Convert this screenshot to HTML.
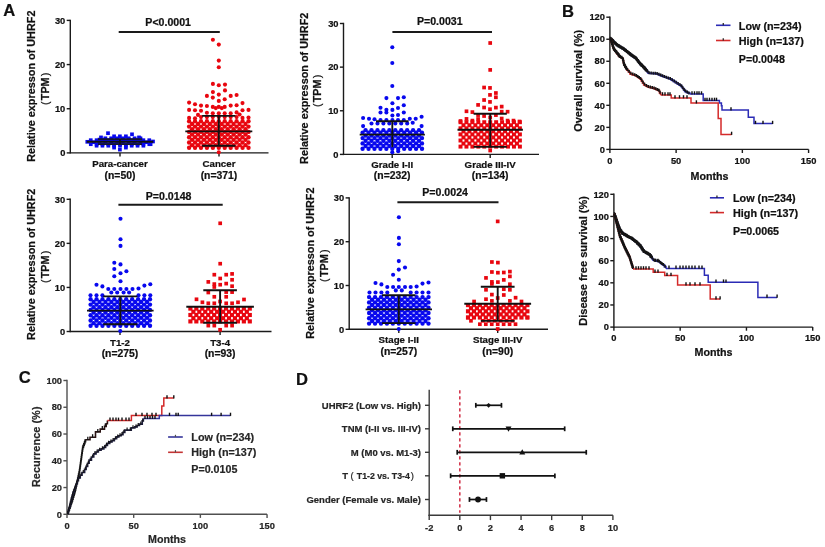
<!DOCTYPE html>
<html><head><meta charset="utf-8"><title>UHRF2 figure</title>
<style>
html,body{margin:0;padding:0;background:#fff;}
body{width:825px;height:547px;overflow:hidden;}
svg{display:block;font-family:"Liberation Sans", sans-serif;}
text{stroke:#111;stroke-width:0.22px;}
.lt text{stroke:#262626;fill:#262626;stroke-width:0.2px;}
svg{will-change:transform;}
</style></head><body>
<svg width="825" height="547" viewBox="0 0 825 547">
<rect width="825" height="547" fill="#fff"/>
<text x="9.2" y="15.5" font-size="16.6" text-anchor="middle" font-weight="bold" fill="#111">A</text>
<text x="568" y="16.8" font-size="16.6" text-anchor="middle" font-weight="bold" fill="#111">B</text>
<text x="24.7" y="383.2" font-size="16.6" text-anchor="middle" font-weight="bold" fill="#111">C</text>
<text x="301.9" y="384.6" font-size="16.6" text-anchor="middle" font-weight="bold" fill="#111">D</text>
<line x1="70.3" y1="19.7" x2="70.3" y2="153.6" stroke="#1a1a1a" stroke-width="1.4"/>
<line x1="66.7" y1="152.9" x2="70.3" y2="152.9" stroke="#1a1a1a" stroke-width="1.4"/>
<text x="65.3" y="156.1" font-size="9.3" text-anchor="end" font-weight="bold" fill="#111">0</text>
<line x1="66.7" y1="108.73" x2="70.3" y2="108.73" stroke="#1a1a1a" stroke-width="1.4"/>
<text x="65.3" y="111.93" font-size="9.3" text-anchor="end" font-weight="bold" fill="#111">10</text>
<line x1="66.7" y1="64.57" x2="70.3" y2="64.57" stroke="#1a1a1a" stroke-width="1.4"/>
<text x="65.3" y="67.77" font-size="9.3" text-anchor="end" font-weight="bold" fill="#111">20</text>
<line x1="66.7" y1="20.4" x2="70.3" y2="20.4" stroke="#1a1a1a" stroke-width="1.4"/>
<text x="65.3" y="23.6" font-size="9.3" text-anchor="end" font-weight="bold" fill="#111">30</text>
<line x1="70.3" y1="152.9" x2="268.5" y2="152.9" stroke="#1a1a1a" stroke-width="1.4"/>
<line x1="120" y1="152.9" x2="120" y2="156.5" stroke="#1a1a1a" stroke-width="1.4"/>
<line x1="219" y1="152.9" x2="219" y2="156.5" stroke="#1a1a1a" stroke-width="1.4"/>
<text x="35" y="86.2" font-size="10.85" text-anchor="middle" font-weight="bold" fill="#111" transform="rotate(-90 35 86.2)">Relative expresson of UHRF2</text>
<text x="48.6" y="88.8" font-size="10.8" text-anchor="middle" font-weight="bold" fill="#111" transform="rotate(-90 48.6 88.8)"><tspan font-weight="normal">(</tspan><tspan dx="1.2">TPM</tspan><tspan dx="1.2" font-weight="normal">)</tspan></text>
<text x="120" y="166.5" font-size="9.7" text-anchor="middle" font-weight="bold" fill="#111">Para-cancer</text>
<text x="120" y="178.5" font-size="10.4" text-anchor="middle" font-weight="bold" fill="#111">(n=50)</text>
<text x="219" y="166.5" font-size="9.7" text-anchor="middle" font-weight="bold" fill="#111">Cancer</text>
<text x="219" y="178.5" font-size="10.4" text-anchor="middle" font-weight="bold" fill="#111">(n=371)</text>
<line x1="118.7" y1="31.9" x2="219.8" y2="31.9" stroke="#1a1a1a" stroke-width="2"/>
<text x="168.2" y="26.2" font-size="10.6" text-anchor="middle" font-weight="bold" fill="#111">P&lt;0.0001</text>
<line x1="343.5" y1="22.8" x2="343.5" y2="155.1" stroke="#1a1a1a" stroke-width="1.4"/>
<line x1="339.9" y1="154.4" x2="343.5" y2="154.4" stroke="#1a1a1a" stroke-width="1.4"/>
<text x="338.5" y="157.6" font-size="9.3" text-anchor="end" font-weight="bold" fill="#111">0</text>
<line x1="339.9" y1="110.77" x2="343.5" y2="110.77" stroke="#1a1a1a" stroke-width="1.4"/>
<text x="338.5" y="113.97" font-size="9.3" text-anchor="end" font-weight="bold" fill="#111">10</text>
<line x1="339.9" y1="67.13" x2="343.5" y2="67.13" stroke="#1a1a1a" stroke-width="1.4"/>
<text x="338.5" y="70.33" font-size="9.3" text-anchor="end" font-weight="bold" fill="#111">20</text>
<line x1="339.9" y1="23.5" x2="343.5" y2="23.5" stroke="#1a1a1a" stroke-width="1.4"/>
<text x="338.5" y="26.7" font-size="9.3" text-anchor="end" font-weight="bold" fill="#111">30</text>
<line x1="343.5" y1="154.4" x2="539" y2="154.4" stroke="#1a1a1a" stroke-width="1.4"/>
<line x1="392.2" y1="154.4" x2="392.2" y2="158" stroke="#1a1a1a" stroke-width="1.4"/>
<line x1="490.2" y1="154.4" x2="490.2" y2="158" stroke="#1a1a1a" stroke-width="1.4"/>
<text x="307.7" y="88.3" font-size="10.85" text-anchor="middle" font-weight="bold" fill="#111" transform="rotate(-90 307.7 88.3)">Relative expresson of UHRF2</text>
<text x="321.3" y="90.9" font-size="10.8" text-anchor="middle" font-weight="bold" fill="#111" transform="rotate(-90 321.3 90.9)"><tspan font-weight="normal">(</tspan><tspan dx="1.2">TPM</tspan><tspan dx="1.2" font-weight="normal">)</tspan></text>
<text x="392.2" y="167.6" font-size="9.7" text-anchor="middle" font-weight="bold" fill="#111">Grade I-II</text>
<text x="392.2" y="179.1" font-size="10.4" text-anchor="middle" font-weight="bold" fill="#111">(n=232)</text>
<text x="490.2" y="167.6" font-size="9.7" text-anchor="middle" font-weight="bold" fill="#111">Grade III-IV</text>
<text x="490.2" y="179.1" font-size="10.4" text-anchor="middle" font-weight="bold" fill="#111">(n=134)</text>
<line x1="392.4" y1="31.9" x2="492" y2="31.9" stroke="#1a1a1a" stroke-width="2"/>
<text x="439.8" y="25.4" font-size="10.6" text-anchor="middle" font-weight="bold" fill="#111">P=0.0031</text>
<line x1="70.2" y1="198.6" x2="70.2" y2="332.2" stroke="#1a1a1a" stroke-width="1.4"/>
<line x1="66.6" y1="331.5" x2="70.2" y2="331.5" stroke="#1a1a1a" stroke-width="1.4"/>
<text x="65.2" y="334.7" font-size="9.3" text-anchor="end" font-weight="bold" fill="#111">0</text>
<line x1="66.6" y1="287.43" x2="70.2" y2="287.43" stroke="#1a1a1a" stroke-width="1.4"/>
<text x="65.2" y="290.63" font-size="9.3" text-anchor="end" font-weight="bold" fill="#111">10</text>
<line x1="66.6" y1="243.37" x2="70.2" y2="243.37" stroke="#1a1a1a" stroke-width="1.4"/>
<text x="65.2" y="246.57" font-size="9.3" text-anchor="end" font-weight="bold" fill="#111">20</text>
<line x1="66.6" y1="199.3" x2="70.2" y2="199.3" stroke="#1a1a1a" stroke-width="1.4"/>
<text x="65.2" y="202.5" font-size="9.3" text-anchor="end" font-weight="bold" fill="#111">30</text>
<line x1="70.2" y1="331.5" x2="271.5" y2="331.5" stroke="#1a1a1a" stroke-width="1.4"/>
<line x1="120" y1="331.5" x2="120" y2="335.1" stroke="#1a1a1a" stroke-width="1.4"/>
<line x1="220.1" y1="331.5" x2="220.1" y2="335.1" stroke="#1a1a1a" stroke-width="1.4"/>
<text x="35" y="264.3" font-size="10.85" text-anchor="middle" font-weight="bold" fill="#111" transform="rotate(-90 35 264.3)">Relative expresson of UHRF2</text>
<text x="48.6" y="266.9" font-size="10.8" text-anchor="middle" font-weight="bold" fill="#111" transform="rotate(-90 48.6 266.9)"><tspan font-weight="normal">(</tspan><tspan dx="1.2">TPM</tspan><tspan dx="1.2" font-weight="normal">)</tspan></text>
<text x="120" y="345.8" font-size="9.7" text-anchor="middle" font-weight="bold" fill="#111">T1-2</text>
<text x="120" y="357.2" font-size="10.4" text-anchor="middle" font-weight="bold" fill="#111">(n=275)</text>
<text x="220.1" y="345.8" font-size="9.7" text-anchor="middle" font-weight="bold" fill="#111">T3-4</text>
<text x="220.1" y="357.2" font-size="10.4" text-anchor="middle" font-weight="bold" fill="#111">(n=93)</text>
<line x1="118.4" y1="204.7" x2="222.7" y2="204.7" stroke="#1a1a1a" stroke-width="2"/>
<text x="168.6" y="200" font-size="10.6" text-anchor="middle" font-weight="bold" fill="#111">P=0.0148</text>
<line x1="349.2" y1="197.2" x2="349.2" y2="330" stroke="#1a1a1a" stroke-width="1.4"/>
<line x1="345.6" y1="329.3" x2="349.2" y2="329.3" stroke="#1a1a1a" stroke-width="1.4"/>
<text x="344.2" y="332.5" font-size="9.3" text-anchor="end" font-weight="bold" fill="#111">0</text>
<line x1="345.6" y1="285.5" x2="349.2" y2="285.5" stroke="#1a1a1a" stroke-width="1.4"/>
<text x="344.2" y="288.7" font-size="9.3" text-anchor="end" font-weight="bold" fill="#111">10</text>
<line x1="345.6" y1="241.7" x2="349.2" y2="241.7" stroke="#1a1a1a" stroke-width="1.4"/>
<text x="344.2" y="244.9" font-size="9.3" text-anchor="end" font-weight="bold" fill="#111">20</text>
<line x1="345.6" y1="197.9" x2="349.2" y2="197.9" stroke="#1a1a1a" stroke-width="1.4"/>
<text x="344.2" y="201.1" font-size="9.3" text-anchor="end" font-weight="bold" fill="#111">30</text>
<line x1="349.2" y1="329.3" x2="548" y2="329.3" stroke="#1a1a1a" stroke-width="1.4"/>
<line x1="398.8" y1="329.3" x2="398.8" y2="332.9" stroke="#1a1a1a" stroke-width="1.4"/>
<line x1="497.7" y1="329.3" x2="497.7" y2="332.9" stroke="#1a1a1a" stroke-width="1.4"/>
<text x="314" y="263.1" font-size="10.85" text-anchor="middle" font-weight="bold" fill="#111" transform="rotate(-90 314 263.1)">Relative expresson of UHRF2</text>
<text x="327.7" y="265.7" font-size="10.8" text-anchor="middle" font-weight="bold" fill="#111" transform="rotate(-90 327.7 265.7)"><tspan font-weight="normal">(</tspan><tspan dx="1.2">TPM</tspan><tspan dx="1.2" font-weight="normal">)</tspan></text>
<text x="398.8" y="342.6" font-size="9.7" text-anchor="middle" font-weight="bold" fill="#111">Stage I-II</text>
<text x="398.8" y="355.2" font-size="10.4" text-anchor="middle" font-weight="bold" fill="#111">(n=257)</text>
<text x="497.7" y="342.6" font-size="9.7" text-anchor="middle" font-weight="bold" fill="#111">Stage III-IV</text>
<text x="497.7" y="355.2" font-size="10.4" text-anchor="middle" font-weight="bold" fill="#111">(n=90)</text>
<line x1="397.4" y1="202.3" x2="498.5" y2="202.3" stroke="#1a1a1a" stroke-width="2"/>
<text x="445.1" y="195.7" font-size="10.6" text-anchor="middle" font-weight="bold" fill="#111">P=0.0024</text>
<rect x="106.16" y="131.35" width="3.69" height="3.69" fill="#0808ee"/>
<rect x="130.16" y="132.46" width="3.69" height="3.69" fill="#0808ee"/>
<rect x="112.25" y="134.46" width="3.69" height="3.69" fill="#0808ee"/>
<rect x="118.06" y="134.46" width="3.69" height="3.69" fill="#0808ee"/>
<rect x="124.06" y="134.46" width="3.69" height="3.69" fill="#0808ee"/>
<rect x="99.16" y="135.56" width="3.69" height="3.69" fill="#0808ee"/>
<rect x="137.16" y="135.56" width="3.69" height="3.69" fill="#0808ee"/>
<rect x="112.25" y="145.75" width="3.69" height="3.69" fill="#0808ee"/>
<rect x="124.06" y="145.75" width="3.69" height="3.69" fill="#0808ee"/>
<rect x="118.06" y="147.75" width="3.69" height="3.69" fill="#0808ee"/>
<rect x="88.91" y="138.35" width="3.69" height="3.69" fill="#0808ee"/>
<rect x="94.75" y="138.35" width="3.69" height="3.69" fill="#0808ee"/>
<rect x="100.61" y="138.35" width="3.69" height="3.69" fill="#0808ee"/>
<rect x="106.45" y="138.35" width="3.69" height="3.69" fill="#0808ee"/>
<rect x="112.31" y="138.35" width="3.69" height="3.69" fill="#0808ee"/>
<rect x="118.16" y="138.35" width="3.69" height="3.69" fill="#0808ee"/>
<rect x="124" y="138.35" width="3.69" height="3.69" fill="#0808ee"/>
<rect x="129.85" y="138.35" width="3.69" height="3.69" fill="#0808ee"/>
<rect x="135.71" y="138.35" width="3.69" height="3.69" fill="#0808ee"/>
<rect x="141.56" y="138.35" width="3.69" height="3.69" fill="#0808ee"/>
<rect x="147.41" y="138.35" width="3.69" height="3.69" fill="#0808ee"/>
<rect x="88.93" y="142.35" width="3.69" height="3.69" fill="#0808ee"/>
<rect x="94.78" y="142.35" width="3.69" height="3.69" fill="#0808ee"/>
<rect x="100.63" y="142.35" width="3.69" height="3.69" fill="#0808ee"/>
<rect x="106.48" y="142.35" width="3.69" height="3.69" fill="#0808ee"/>
<rect x="112.33" y="142.35" width="3.69" height="3.69" fill="#0808ee"/>
<rect x="118.18" y="142.35" width="3.69" height="3.69" fill="#0808ee"/>
<rect x="124.03" y="142.35" width="3.69" height="3.69" fill="#0808ee"/>
<rect x="129.88" y="142.35" width="3.69" height="3.69" fill="#0808ee"/>
<rect x="135.73" y="142.35" width="3.69" height="3.69" fill="#0808ee"/>
<rect x="141.58" y="142.35" width="3.69" height="3.69" fill="#0808ee"/>
<rect x="147.43" y="142.35" width="3.69" height="3.69" fill="#0808ee"/>
<rect x="151.16" y="139.66" width="3.69" height="3.69" fill="#0808ee"/>
<rect x="85.45" y="139.96" width="3.69" height="3.69" fill="#0808ee"/>
<rect x="148.75" y="142.35" width="3.69" height="3.69" fill="#0808ee"/>
<rect x="103.51" y="136.46" width="3.69" height="3.69" fill="#0808ee"/>
<rect x="109.36" y="136.46" width="3.69" height="3.69" fill="#0808ee"/>
<rect x="115.21" y="136.46" width="3.69" height="3.69" fill="#0808ee"/>
<rect x="121.06" y="136.46" width="3.69" height="3.69" fill="#0808ee"/>
<rect x="126.91" y="136.46" width="3.69" height="3.69" fill="#0808ee"/>
<rect x="132.75" y="136.46" width="3.69" height="3.69" fill="#0808ee"/>
<rect x="138.61" y="136.46" width="3.69" height="3.69" fill="#0808ee"/>
<rect x="94.75" y="143.85" width="3.69" height="3.69" fill="#0808ee"/>
<rect x="100.61" y="143.85" width="3.69" height="3.69" fill="#0808ee"/>
<rect x="106.45" y="143.85" width="3.69" height="3.69" fill="#0808ee"/>
<rect x="112.31" y="143.85" width="3.69" height="3.69" fill="#0808ee"/>
<rect x="118.16" y="143.85" width="3.69" height="3.69" fill="#0808ee"/>
<rect x="124" y="143.85" width="3.69" height="3.69" fill="#0808ee"/>
<rect x="129.85" y="143.85" width="3.69" height="3.69" fill="#0808ee"/>
<rect x="135.71" y="143.85" width="3.69" height="3.69" fill="#0808ee"/>
<rect x="141.56" y="143.85" width="3.69" height="3.69" fill="#0808ee"/>
<rect x="91.81" y="140.35" width="3.69" height="3.69" fill="#0808ee"/>
<rect x="97.66" y="140.35" width="3.69" height="3.69" fill="#0808ee"/>
<rect x="103.51" y="140.35" width="3.69" height="3.69" fill="#0808ee"/>
<rect x="109.36" y="140.35" width="3.69" height="3.69" fill="#0808ee"/>
<rect x="115.21" y="140.35" width="3.69" height="3.69" fill="#0808ee"/>
<rect x="121.06" y="140.35" width="3.69" height="3.69" fill="#0808ee"/>
<rect x="126.91" y="140.35" width="3.69" height="3.69" fill="#0808ee"/>
<rect x="132.75" y="140.35" width="3.69" height="3.69" fill="#0808ee"/>
<rect x="138.61" y="140.35" width="3.69" height="3.69" fill="#0808ee"/>
<rect x="144.46" y="140.35" width="3.69" height="3.69" fill="#0808ee"/>
<rect x="97.66" y="137.75" width="3.69" height="3.69" fill="#0808ee"/>
<rect x="103.51" y="137.75" width="3.69" height="3.69" fill="#0808ee"/>
<rect x="109.36" y="137.75" width="3.69" height="3.69" fill="#0808ee"/>
<rect x="115.21" y="137.75" width="3.69" height="3.69" fill="#0808ee"/>
<rect x="121.06" y="137.75" width="3.69" height="3.69" fill="#0808ee"/>
<rect x="126.91" y="137.75" width="3.69" height="3.69" fill="#0808ee"/>
<rect x="132.75" y="137.75" width="3.69" height="3.69" fill="#0808ee"/>
<rect x="138.61" y="137.75" width="3.69" height="3.69" fill="#0808ee"/>
<line x1="86.8" y1="141.7" x2="153.3" y2="141.7" stroke="#111" stroke-width="1.9"/>
<line x1="98" y1="139.2" x2="142" y2="139.2" stroke="#151530" stroke-width="1.7"/>
<line x1="98" y1="144.2" x2="142" y2="144.2" stroke="#151530" stroke-width="1.7"/>
<line x1="120" y1="139.2" x2="120" y2="144.2" stroke="#111" stroke-width="1.7"/>
<circle cx="212.9" cy="39.7" r="2.05" fill="#e8060f"/>
<circle cx="218.8" cy="44.6" r="2.05" fill="#e8060f"/>
<circle cx="218.8" cy="60.6" r="2.05" fill="#e8060f"/>
<circle cx="218.8" cy="67.2" r="2.05" fill="#e8060f"/>
<circle cx="212.9" cy="83.9" r="2.05" fill="#e8060f"/>
<circle cx="218.8" cy="85.2" r="2.05" fill="#e8060f"/>
<circle cx="225" cy="84.6" r="2.05" fill="#e8060f"/>
<circle cx="225" cy="90.4" r="2.05" fill="#e8060f"/>
<circle cx="212.9" cy="92.1" r="2.05" fill="#e8060f"/>
<circle cx="206.9" cy="95.9" r="2.05" fill="#e8060f"/>
<circle cx="218.8" cy="94.6" r="2.05" fill="#e8060f"/>
<circle cx="230.7" cy="95.9" r="2.05" fill="#e8060f"/>
<circle cx="236.6" cy="95" r="2.05" fill="#e8060f"/>
<circle cx="212.8" cy="97.6" r="2.05" fill="#e8060f"/>
<circle cx="224.7" cy="99.3" r="2.05" fill="#e8060f"/>
<circle cx="218.8" cy="100.9" r="2.05" fill="#e8060f"/>
<circle cx="189.1" cy="102.6" r="2.05" fill="#e8060f"/>
<circle cx="242.5" cy="103.1" r="2.05" fill="#e8060f"/>
<circle cx="195" cy="104.3" r="2.05" fill="#e8060f"/>
<circle cx="201" cy="105.6" r="2.05" fill="#e8060f"/>
<circle cx="206.9" cy="106" r="2.05" fill="#e8060f"/>
<circle cx="230.7" cy="105.6" r="2.05" fill="#e8060f"/>
<circle cx="236.6" cy="105.2" r="2.05" fill="#e8060f"/>
<circle cx="212.8" cy="106.9" r="2.05" fill="#e8060f"/>
<circle cx="218.8" cy="106.9" r="2.05" fill="#e8060f"/>
<circle cx="224.7" cy="106.9" r="2.05" fill="#e8060f"/>
<circle cx="215.8" cy="108.1" r="2.05" fill="#e8060f"/>
<circle cx="221.8" cy="108.1" r="2.05" fill="#e8060f"/>
<circle cx="189.1" cy="109.9" r="2.05" fill="#e8060f"/>
<circle cx="195" cy="110.3" r="2.05" fill="#e8060f"/>
<circle cx="201" cy="110.7" r="2.05" fill="#e8060f"/>
<circle cx="242.5" cy="110.3" r="2.05" fill="#e8060f"/>
<circle cx="248.5" cy="109.9" r="2.05" fill="#e8060f"/>
<circle cx="206.9" cy="112.8" r="2.05" fill="#e8060f"/>
<circle cx="212.8" cy="113.2" r="2.05" fill="#e8060f"/>
<circle cx="218.8" cy="113.2" r="2.05" fill="#e8060f"/>
<circle cx="224.7" cy="113.2" r="2.05" fill="#e8060f"/>
<circle cx="230.7" cy="113.2" r="2.05" fill="#e8060f"/>
<circle cx="236.6" cy="112.4" r="2.05" fill="#e8060f"/>
<circle cx="198" cy="114.9" r="2.05" fill="#e8060f"/>
<circle cx="239.6" cy="114.5" r="2.05" fill="#e8060f"/>
<circle cx="189.1" cy="117.9" r="2.05" fill="#e8060f"/>
<circle cx="195" cy="118.3" r="2.05" fill="#e8060f"/>
<circle cx="242.5" cy="117.9" r="2.05" fill="#e8060f"/>
<circle cx="248.5" cy="117.5" r="2.05" fill="#e8060f"/>
<circle cx="201" cy="117.1" r="2.05" fill="#e8060f"/>
<circle cx="206.9" cy="117.1" r="2.05" fill="#e8060f"/>
<circle cx="212.8" cy="117.1" r="2.05" fill="#e8060f"/>
<circle cx="218.8" cy="117.1" r="2.05" fill="#e8060f"/>
<circle cx="224.7" cy="117.1" r="2.05" fill="#e8060f"/>
<circle cx="230.7" cy="117.1" r="2.05" fill="#e8060f"/>
<circle cx="236.6" cy="117.1" r="2.05" fill="#e8060f"/>
<circle cx="218.8" cy="152.2" r="2.05" fill="#e8060f"/>
<circle cx="189.1" cy="147.8" r="2.18" fill="#e8060f"/>
<circle cx="195.04" cy="147.8" r="2.18" fill="#e8060f"/>
<circle cx="200.98" cy="147.8" r="2.18" fill="#e8060f"/>
<circle cx="206.92" cy="147.8" r="2.18" fill="#e8060f"/>
<circle cx="212.86" cy="147.8" r="2.18" fill="#e8060f"/>
<circle cx="218.8" cy="147.8" r="2.18" fill="#e8060f"/>
<circle cx="224.74" cy="147.8" r="2.18" fill="#e8060f"/>
<circle cx="230.68" cy="147.8" r="2.18" fill="#e8060f"/>
<circle cx="236.62" cy="147.8" r="2.18" fill="#e8060f"/>
<circle cx="242.56" cy="147.8" r="2.18" fill="#e8060f"/>
<circle cx="248.5" cy="147.8" r="2.18" fill="#e8060f"/>
<circle cx="192.07" cy="145.15" r="2.18" fill="#e8060f"/>
<circle cx="198.01" cy="145.15" r="2.18" fill="#e8060f"/>
<circle cx="203.95" cy="145.15" r="2.18" fill="#e8060f"/>
<circle cx="209.89" cy="145.15" r="2.18" fill="#e8060f"/>
<circle cx="215.83" cy="145.15" r="2.18" fill="#e8060f"/>
<circle cx="221.77" cy="145.15" r="2.18" fill="#e8060f"/>
<circle cx="227.71" cy="145.15" r="2.18" fill="#e8060f"/>
<circle cx="233.65" cy="145.15" r="2.18" fill="#e8060f"/>
<circle cx="239.59" cy="145.15" r="2.18" fill="#e8060f"/>
<circle cx="245.53" cy="145.15" r="2.18" fill="#e8060f"/>
<circle cx="189.1" cy="142.5" r="2.18" fill="#e8060f"/>
<circle cx="195.04" cy="142.5" r="2.18" fill="#e8060f"/>
<circle cx="200.98" cy="142.5" r="2.18" fill="#e8060f"/>
<circle cx="206.92" cy="142.5" r="2.18" fill="#e8060f"/>
<circle cx="212.86" cy="142.5" r="2.18" fill="#e8060f"/>
<circle cx="218.8" cy="142.5" r="2.18" fill="#e8060f"/>
<circle cx="224.74" cy="142.5" r="2.18" fill="#e8060f"/>
<circle cx="230.68" cy="142.5" r="2.18" fill="#e8060f"/>
<circle cx="236.62" cy="142.5" r="2.18" fill="#e8060f"/>
<circle cx="242.56" cy="142.5" r="2.18" fill="#e8060f"/>
<circle cx="248.5" cy="142.5" r="2.18" fill="#e8060f"/>
<circle cx="192.07" cy="139.85" r="2.18" fill="#e8060f"/>
<circle cx="198.01" cy="139.85" r="2.18" fill="#e8060f"/>
<circle cx="203.95" cy="139.85" r="2.18" fill="#e8060f"/>
<circle cx="209.89" cy="139.85" r="2.18" fill="#e8060f"/>
<circle cx="215.83" cy="139.85" r="2.18" fill="#e8060f"/>
<circle cx="221.77" cy="139.85" r="2.18" fill="#e8060f"/>
<circle cx="227.71" cy="139.85" r="2.18" fill="#e8060f"/>
<circle cx="233.65" cy="139.85" r="2.18" fill="#e8060f"/>
<circle cx="239.59" cy="139.85" r="2.18" fill="#e8060f"/>
<circle cx="245.53" cy="139.85" r="2.18" fill="#e8060f"/>
<circle cx="189.1" cy="137.2" r="2.18" fill="#e8060f"/>
<circle cx="195.04" cy="137.2" r="2.18" fill="#e8060f"/>
<circle cx="200.98" cy="137.2" r="2.18" fill="#e8060f"/>
<circle cx="206.92" cy="137.2" r="2.18" fill="#e8060f"/>
<circle cx="212.86" cy="137.2" r="2.18" fill="#e8060f"/>
<circle cx="218.8" cy="137.2" r="2.18" fill="#e8060f"/>
<circle cx="224.74" cy="137.2" r="2.18" fill="#e8060f"/>
<circle cx="230.68" cy="137.2" r="2.18" fill="#e8060f"/>
<circle cx="236.62" cy="137.2" r="2.18" fill="#e8060f"/>
<circle cx="242.56" cy="137.2" r="2.18" fill="#e8060f"/>
<circle cx="248.5" cy="137.2" r="2.18" fill="#e8060f"/>
<circle cx="192.07" cy="134.55" r="2.18" fill="#e8060f"/>
<circle cx="198.01" cy="134.55" r="2.18" fill="#e8060f"/>
<circle cx="203.95" cy="134.55" r="2.18" fill="#e8060f"/>
<circle cx="209.89" cy="134.55" r="2.18" fill="#e8060f"/>
<circle cx="215.83" cy="134.55" r="2.18" fill="#e8060f"/>
<circle cx="221.77" cy="134.55" r="2.18" fill="#e8060f"/>
<circle cx="227.71" cy="134.55" r="2.18" fill="#e8060f"/>
<circle cx="233.65" cy="134.55" r="2.18" fill="#e8060f"/>
<circle cx="239.59" cy="134.55" r="2.18" fill="#e8060f"/>
<circle cx="245.53" cy="134.55" r="2.18" fill="#e8060f"/>
<circle cx="189.1" cy="131.9" r="2.18" fill="#e8060f"/>
<circle cx="195.04" cy="131.9" r="2.18" fill="#e8060f"/>
<circle cx="200.98" cy="131.9" r="2.18" fill="#e8060f"/>
<circle cx="206.92" cy="131.9" r="2.18" fill="#e8060f"/>
<circle cx="212.86" cy="131.9" r="2.18" fill="#e8060f"/>
<circle cx="218.8" cy="131.9" r="2.18" fill="#e8060f"/>
<circle cx="224.74" cy="131.9" r="2.18" fill="#e8060f"/>
<circle cx="230.68" cy="131.9" r="2.18" fill="#e8060f"/>
<circle cx="236.62" cy="131.9" r="2.18" fill="#e8060f"/>
<circle cx="242.56" cy="131.9" r="2.18" fill="#e8060f"/>
<circle cx="248.5" cy="131.9" r="2.18" fill="#e8060f"/>
<circle cx="192.07" cy="129.25" r="2.18" fill="#e8060f"/>
<circle cx="198.01" cy="129.25" r="2.18" fill="#e8060f"/>
<circle cx="203.95" cy="129.25" r="2.18" fill="#e8060f"/>
<circle cx="209.89" cy="129.25" r="2.18" fill="#e8060f"/>
<circle cx="215.83" cy="129.25" r="2.18" fill="#e8060f"/>
<circle cx="221.77" cy="129.25" r="2.18" fill="#e8060f"/>
<circle cx="227.71" cy="129.25" r="2.18" fill="#e8060f"/>
<circle cx="233.65" cy="129.25" r="2.18" fill="#e8060f"/>
<circle cx="239.59" cy="129.25" r="2.18" fill="#e8060f"/>
<circle cx="245.53" cy="129.25" r="2.18" fill="#e8060f"/>
<circle cx="189.1" cy="126.6" r="2.18" fill="#e8060f"/>
<circle cx="195.04" cy="126.6" r="2.18" fill="#e8060f"/>
<circle cx="200.98" cy="126.6" r="2.18" fill="#e8060f"/>
<circle cx="206.92" cy="126.6" r="2.18" fill="#e8060f"/>
<circle cx="212.86" cy="126.6" r="2.18" fill="#e8060f"/>
<circle cx="218.8" cy="126.6" r="2.18" fill="#e8060f"/>
<circle cx="224.74" cy="126.6" r="2.18" fill="#e8060f"/>
<circle cx="230.68" cy="126.6" r="2.18" fill="#e8060f"/>
<circle cx="236.62" cy="126.6" r="2.18" fill="#e8060f"/>
<circle cx="242.56" cy="126.6" r="2.18" fill="#e8060f"/>
<circle cx="248.5" cy="126.6" r="2.18" fill="#e8060f"/>
<circle cx="192.07" cy="123.95" r="2.18" fill="#e8060f"/>
<circle cx="198.01" cy="123.95" r="2.18" fill="#e8060f"/>
<circle cx="203.95" cy="123.95" r="2.18" fill="#e8060f"/>
<circle cx="209.89" cy="123.95" r="2.18" fill="#e8060f"/>
<circle cx="215.83" cy="123.95" r="2.18" fill="#e8060f"/>
<circle cx="221.77" cy="123.95" r="2.18" fill="#e8060f"/>
<circle cx="227.71" cy="123.95" r="2.18" fill="#e8060f"/>
<circle cx="233.65" cy="123.95" r="2.18" fill="#e8060f"/>
<circle cx="239.59" cy="123.95" r="2.18" fill="#e8060f"/>
<circle cx="245.53" cy="123.95" r="2.18" fill="#e8060f"/>
<circle cx="189.1" cy="121.3" r="2.18" fill="#e8060f"/>
<circle cx="195.04" cy="121.3" r="2.18" fill="#e8060f"/>
<circle cx="200.98" cy="121.3" r="2.18" fill="#e8060f"/>
<circle cx="206.92" cy="121.3" r="2.18" fill="#e8060f"/>
<circle cx="212.86" cy="121.3" r="2.18" fill="#e8060f"/>
<circle cx="218.8" cy="121.3" r="2.18" fill="#e8060f"/>
<circle cx="224.74" cy="121.3" r="2.18" fill="#e8060f"/>
<circle cx="230.68" cy="121.3" r="2.18" fill="#e8060f"/>
<circle cx="236.62" cy="121.3" r="2.18" fill="#e8060f"/>
<circle cx="242.56" cy="121.3" r="2.18" fill="#e8060f"/>
<circle cx="248.5" cy="121.3" r="2.18" fill="#e8060f"/>
<line x1="185.3" y1="131.4" x2="252.3" y2="131.4" stroke="#111" stroke-width="1.9"/>
<line x1="202.1" y1="115.9" x2="235.5" y2="115.9" stroke="#111" stroke-width="1.9"/>
<line x1="202.1" y1="145.7" x2="235.5" y2="145.7" stroke="#111" stroke-width="1.9"/>
<line x1="218.8" y1="115.9" x2="218.8" y2="145.7" stroke="#111" stroke-width="1.9"/>
<circle cx="392.3" cy="47.2" r="2.05" fill="#0808ee"/>
<circle cx="392.3" cy="63" r="2.05" fill="#0808ee"/>
<circle cx="392.3" cy="86" r="2.05" fill="#0808ee"/>
<circle cx="386.4" cy="98.1" r="2.05" fill="#0808ee"/>
<circle cx="398" cy="98.1" r="2.05" fill="#0808ee"/>
<circle cx="403.8" cy="97.2" r="2.05" fill="#0808ee"/>
<circle cx="392.4" cy="103.2" r="2.05" fill="#0808ee"/>
<circle cx="403.8" cy="105.3" r="2.05" fill="#0808ee"/>
<circle cx="380.5" cy="107.8" r="2.05" fill="#0808ee"/>
<circle cx="386.4" cy="109.7" r="2.05" fill="#0808ee"/>
<circle cx="392.4" cy="109.9" r="2.05" fill="#0808ee"/>
<circle cx="398" cy="108" r="2.05" fill="#0808ee"/>
<circle cx="380.5" cy="112.5" r="2.05" fill="#0808ee"/>
<circle cx="386.4" cy="112.5" r="2.05" fill="#0808ee"/>
<circle cx="403.8" cy="112.5" r="2.05" fill="#0808ee"/>
<circle cx="392.4" cy="115.5" r="2.05" fill="#0808ee"/>
<circle cx="398" cy="115" r="2.05" fill="#0808ee"/>
<circle cx="363.1" cy="118" r="2.05" fill="#0808ee"/>
<circle cx="369" cy="118.8" r="2.05" fill="#0808ee"/>
<circle cx="374.5" cy="119.3" r="2.05" fill="#0808ee"/>
<circle cx="380.5" cy="120" r="2.05" fill="#0808ee"/>
<circle cx="386.4" cy="120" r="2.05" fill="#0808ee"/>
<circle cx="392.4" cy="120" r="2.05" fill="#0808ee"/>
<circle cx="398" cy="120" r="2.05" fill="#0808ee"/>
<circle cx="403.8" cy="120" r="2.05" fill="#0808ee"/>
<circle cx="409.8" cy="118.8" r="2.05" fill="#0808ee"/>
<circle cx="415.7" cy="118.8" r="2.05" fill="#0808ee"/>
<circle cx="421.6" cy="116.7" r="2.05" fill="#0808ee"/>
<circle cx="412.7" cy="122.7" r="2.05" fill="#0808ee"/>
<circle cx="363.1" cy="126.1" r="2.05" fill="#0808ee"/>
<circle cx="421.6" cy="126.1" r="2.05" fill="#0808ee"/>
<circle cx="371.5" cy="123.5" r="2.05" fill="#0808ee"/>
<circle cx="377.5" cy="123.5" r="2.05" fill="#0808ee"/>
<circle cx="383.4" cy="123.5" r="2.05" fill="#0808ee"/>
<circle cx="389.3" cy="123.5" r="2.05" fill="#0808ee"/>
<circle cx="395.3" cy="123.5" r="2.05" fill="#0808ee"/>
<circle cx="401.2" cy="123.5" r="2.05" fill="#0808ee"/>
<circle cx="407.2" cy="123.5" r="2.05" fill="#0808ee"/>
<circle cx="392.3" cy="152.2" r="2.05" fill="#0808ee"/>
<circle cx="398.2" cy="151.2" r="2.05" fill="#0808ee"/>
<circle cx="362.6" cy="148.7" r="2.18" fill="#0808ee"/>
<circle cx="368.54" cy="148.7" r="2.18" fill="#0808ee"/>
<circle cx="374.48" cy="148.7" r="2.18" fill="#0808ee"/>
<circle cx="380.42" cy="148.7" r="2.18" fill="#0808ee"/>
<circle cx="386.36" cy="148.7" r="2.18" fill="#0808ee"/>
<circle cx="392.3" cy="148.7" r="2.18" fill="#0808ee"/>
<circle cx="398.24" cy="148.7" r="2.18" fill="#0808ee"/>
<circle cx="404.18" cy="148.7" r="2.18" fill="#0808ee"/>
<circle cx="410.12" cy="148.7" r="2.18" fill="#0808ee"/>
<circle cx="416.06" cy="148.7" r="2.18" fill="#0808ee"/>
<circle cx="422" cy="148.7" r="2.18" fill="#0808ee"/>
<circle cx="365.57" cy="146.05" r="2.18" fill="#0808ee"/>
<circle cx="371.51" cy="146.05" r="2.18" fill="#0808ee"/>
<circle cx="377.45" cy="146.05" r="2.18" fill="#0808ee"/>
<circle cx="383.39" cy="146.05" r="2.18" fill="#0808ee"/>
<circle cx="389.33" cy="146.05" r="2.18" fill="#0808ee"/>
<circle cx="395.27" cy="146.05" r="2.18" fill="#0808ee"/>
<circle cx="401.21" cy="146.05" r="2.18" fill="#0808ee"/>
<circle cx="407.15" cy="146.05" r="2.18" fill="#0808ee"/>
<circle cx="413.09" cy="146.05" r="2.18" fill="#0808ee"/>
<circle cx="419.03" cy="146.05" r="2.18" fill="#0808ee"/>
<circle cx="362.6" cy="143.4" r="2.18" fill="#0808ee"/>
<circle cx="368.54" cy="143.4" r="2.18" fill="#0808ee"/>
<circle cx="374.48" cy="143.4" r="2.18" fill="#0808ee"/>
<circle cx="380.42" cy="143.4" r="2.18" fill="#0808ee"/>
<circle cx="386.36" cy="143.4" r="2.18" fill="#0808ee"/>
<circle cx="392.3" cy="143.4" r="2.18" fill="#0808ee"/>
<circle cx="398.24" cy="143.4" r="2.18" fill="#0808ee"/>
<circle cx="404.18" cy="143.4" r="2.18" fill="#0808ee"/>
<circle cx="410.12" cy="143.4" r="2.18" fill="#0808ee"/>
<circle cx="416.06" cy="143.4" r="2.18" fill="#0808ee"/>
<circle cx="422" cy="143.4" r="2.18" fill="#0808ee"/>
<circle cx="365.57" cy="140.75" r="2.18" fill="#0808ee"/>
<circle cx="371.51" cy="140.75" r="2.18" fill="#0808ee"/>
<circle cx="377.45" cy="140.75" r="2.18" fill="#0808ee"/>
<circle cx="383.39" cy="140.75" r="2.18" fill="#0808ee"/>
<circle cx="389.33" cy="140.75" r="2.18" fill="#0808ee"/>
<circle cx="395.27" cy="140.75" r="2.18" fill="#0808ee"/>
<circle cx="401.21" cy="140.75" r="2.18" fill="#0808ee"/>
<circle cx="407.15" cy="140.75" r="2.18" fill="#0808ee"/>
<circle cx="413.09" cy="140.75" r="2.18" fill="#0808ee"/>
<circle cx="419.03" cy="140.75" r="2.18" fill="#0808ee"/>
<circle cx="362.6" cy="138.1" r="2.18" fill="#0808ee"/>
<circle cx="368.54" cy="138.1" r="2.18" fill="#0808ee"/>
<circle cx="374.48" cy="138.1" r="2.18" fill="#0808ee"/>
<circle cx="380.42" cy="138.1" r="2.18" fill="#0808ee"/>
<circle cx="386.36" cy="138.1" r="2.18" fill="#0808ee"/>
<circle cx="392.3" cy="138.1" r="2.18" fill="#0808ee"/>
<circle cx="398.24" cy="138.1" r="2.18" fill="#0808ee"/>
<circle cx="404.18" cy="138.1" r="2.18" fill="#0808ee"/>
<circle cx="410.12" cy="138.1" r="2.18" fill="#0808ee"/>
<circle cx="416.06" cy="138.1" r="2.18" fill="#0808ee"/>
<circle cx="422" cy="138.1" r="2.18" fill="#0808ee"/>
<circle cx="365.57" cy="135.45" r="2.18" fill="#0808ee"/>
<circle cx="371.51" cy="135.45" r="2.18" fill="#0808ee"/>
<circle cx="377.45" cy="135.45" r="2.18" fill="#0808ee"/>
<circle cx="383.39" cy="135.45" r="2.18" fill="#0808ee"/>
<circle cx="389.33" cy="135.45" r="2.18" fill="#0808ee"/>
<circle cx="395.27" cy="135.45" r="2.18" fill="#0808ee"/>
<circle cx="401.21" cy="135.45" r="2.18" fill="#0808ee"/>
<circle cx="407.15" cy="135.45" r="2.18" fill="#0808ee"/>
<circle cx="413.09" cy="135.45" r="2.18" fill="#0808ee"/>
<circle cx="419.03" cy="135.45" r="2.18" fill="#0808ee"/>
<circle cx="362.6" cy="132.8" r="2.18" fill="#0808ee"/>
<circle cx="368.54" cy="132.8" r="2.18" fill="#0808ee"/>
<circle cx="374.48" cy="132.8" r="2.18" fill="#0808ee"/>
<circle cx="380.42" cy="132.8" r="2.18" fill="#0808ee"/>
<circle cx="386.36" cy="132.8" r="2.18" fill="#0808ee"/>
<circle cx="392.3" cy="132.8" r="2.18" fill="#0808ee"/>
<circle cx="398.24" cy="132.8" r="2.18" fill="#0808ee"/>
<circle cx="404.18" cy="132.8" r="2.18" fill="#0808ee"/>
<circle cx="410.12" cy="132.8" r="2.18" fill="#0808ee"/>
<circle cx="416.06" cy="132.8" r="2.18" fill="#0808ee"/>
<circle cx="422" cy="132.8" r="2.18" fill="#0808ee"/>
<circle cx="365.57" cy="130.15" r="2.18" fill="#0808ee"/>
<circle cx="371.51" cy="130.15" r="2.18" fill="#0808ee"/>
<circle cx="377.45" cy="130.15" r="2.18" fill="#0808ee"/>
<circle cx="383.39" cy="130.15" r="2.18" fill="#0808ee"/>
<circle cx="389.33" cy="130.15" r="2.18" fill="#0808ee"/>
<circle cx="395.27" cy="130.15" r="2.18" fill="#0808ee"/>
<circle cx="401.21" cy="130.15" r="2.18" fill="#0808ee"/>
<circle cx="407.15" cy="130.15" r="2.18" fill="#0808ee"/>
<circle cx="413.09" cy="130.15" r="2.18" fill="#0808ee"/>
<circle cx="419.03" cy="130.15" r="2.18" fill="#0808ee"/>
<line x1="359.7" y1="134.6" x2="424.9" y2="134.6" stroke="#111" stroke-width="1.9"/>
<line x1="376" y1="121.3" x2="408.6" y2="121.3" stroke="#111" stroke-width="1.9"/>
<line x1="392.3" y1="121.3" x2="392.3" y2="147.2" stroke="#111" stroke-width="1.9"/>
<rect x="488.35" y="41.16" width="3.69" height="3.69" fill="#e8060f"/>
<rect x="488.35" y="68.06" width="3.69" height="3.69" fill="#e8060f"/>
<rect x="482.25" y="85.66" width="3.69" height="3.69" fill="#e8060f"/>
<rect x="488.15" y="86.06" width="3.69" height="3.69" fill="#e8060f"/>
<rect x="488.15" y="93.06" width="3.69" height="3.69" fill="#e8060f"/>
<rect x="494.05" y="91.16" width="3.69" height="3.69" fill="#e8060f"/>
<rect x="494.05" y="95.45" width="3.69" height="3.69" fill="#e8060f"/>
<rect x="482.25" y="98.16" width="3.69" height="3.69" fill="#e8060f"/>
<rect x="488.15" y="100.06" width="3.69" height="3.69" fill="#e8060f"/>
<rect x="476.25" y="103.06" width="3.69" height="3.69" fill="#e8060f"/>
<rect x="482.25" y="105.66" width="3.69" height="3.69" fill="#e8060f"/>
<rect x="488.15" y="107.36" width="3.69" height="3.69" fill="#e8060f"/>
<rect x="494.05" y="105.75" width="3.69" height="3.69" fill="#e8060f"/>
<rect x="499.85" y="104.75" width="3.69" height="3.69" fill="#e8060f"/>
<rect x="464.65" y="109.45" width="3.69" height="3.69" fill="#e8060f"/>
<rect x="470.55" y="110.25" width="3.69" height="3.69" fill="#e8060f"/>
<rect x="499.85" y="109.86" width="3.69" height="3.69" fill="#e8060f"/>
<rect x="505.75" y="109.86" width="3.69" height="3.69" fill="#e8060f"/>
<rect x="476.25" y="113.25" width="3.69" height="3.69" fill="#e8060f"/>
<rect x="482.25" y="114.16" width="3.69" height="3.69" fill="#e8060f"/>
<rect x="494.05" y="113.25" width="3.69" height="3.69" fill="#e8060f"/>
<rect x="464.65" y="117.06" width="3.69" height="3.69" fill="#e8060f"/>
<rect x="470.55" y="118.75" width="3.69" height="3.69" fill="#e8060f"/>
<rect x="505.75" y="118.75" width="3.69" height="3.69" fill="#e8060f"/>
<rect x="511.65" y="118.75" width="3.69" height="3.69" fill="#e8060f"/>
<rect x="476.25" y="117.16" width="3.69" height="3.69" fill="#e8060f"/>
<rect x="488.35" y="115.66" width="3.69" height="3.69" fill="#e8060f"/>
<rect x="499.85" y="116.66" width="3.69" height="3.69" fill="#e8060f"/>
<rect x="458.65" y="119.16" width="3.69" height="3.69" fill="#e8060f"/>
<rect x="517.65" y="119.66" width="3.69" height="3.69" fill="#e8060f"/>
<rect x="488.35" y="148.66" width="3.69" height="3.69" fill="#e8060f"/>
<rect x="458.52" y="144.62" width="3.96" height="3.96" fill="#e8060f"/>
<rect x="464.46" y="144.62" width="3.96" height="3.96" fill="#e8060f"/>
<rect x="470.4" y="144.62" width="3.96" height="3.96" fill="#e8060f"/>
<rect x="476.34" y="144.62" width="3.96" height="3.96" fill="#e8060f"/>
<rect x="482.28" y="144.62" width="3.96" height="3.96" fill="#e8060f"/>
<rect x="488.22" y="144.62" width="3.96" height="3.96" fill="#e8060f"/>
<rect x="494.16" y="144.62" width="3.96" height="3.96" fill="#e8060f"/>
<rect x="500.1" y="144.62" width="3.96" height="3.96" fill="#e8060f"/>
<rect x="506.04" y="144.62" width="3.96" height="3.96" fill="#e8060f"/>
<rect x="511.98" y="144.62" width="3.96" height="3.96" fill="#e8060f"/>
<rect x="517.92" y="144.62" width="3.96" height="3.96" fill="#e8060f"/>
<rect x="461.49" y="141.57" width="3.96" height="3.96" fill="#e8060f"/>
<rect x="467.43" y="141.57" width="3.96" height="3.96" fill="#e8060f"/>
<rect x="473.37" y="141.57" width="3.96" height="3.96" fill="#e8060f"/>
<rect x="479.31" y="141.57" width="3.96" height="3.96" fill="#e8060f"/>
<rect x="485.25" y="141.57" width="3.96" height="3.96" fill="#e8060f"/>
<rect x="491.19" y="141.57" width="3.96" height="3.96" fill="#e8060f"/>
<rect x="497.13" y="141.57" width="3.96" height="3.96" fill="#e8060f"/>
<rect x="503.07" y="141.57" width="3.96" height="3.96" fill="#e8060f"/>
<rect x="509.01" y="141.57" width="3.96" height="3.96" fill="#e8060f"/>
<rect x="514.95" y="141.57" width="3.96" height="3.96" fill="#e8060f"/>
<rect x="458.52" y="138.52" width="3.96" height="3.96" fill="#e8060f"/>
<rect x="464.46" y="138.52" width="3.96" height="3.96" fill="#e8060f"/>
<rect x="470.4" y="138.52" width="3.96" height="3.96" fill="#e8060f"/>
<rect x="476.34" y="138.52" width="3.96" height="3.96" fill="#e8060f"/>
<rect x="482.28" y="138.52" width="3.96" height="3.96" fill="#e8060f"/>
<rect x="488.22" y="138.52" width="3.96" height="3.96" fill="#e8060f"/>
<rect x="494.16" y="138.52" width="3.96" height="3.96" fill="#e8060f"/>
<rect x="500.1" y="138.52" width="3.96" height="3.96" fill="#e8060f"/>
<rect x="506.04" y="138.52" width="3.96" height="3.96" fill="#e8060f"/>
<rect x="511.98" y="138.52" width="3.96" height="3.96" fill="#e8060f"/>
<rect x="517.92" y="138.52" width="3.96" height="3.96" fill="#e8060f"/>
<rect x="461.49" y="135.47" width="3.96" height="3.96" fill="#e8060f"/>
<rect x="467.43" y="135.47" width="3.96" height="3.96" fill="#e8060f"/>
<rect x="473.37" y="135.47" width="3.96" height="3.96" fill="#e8060f"/>
<rect x="479.31" y="135.47" width="3.96" height="3.96" fill="#e8060f"/>
<rect x="485.25" y="135.47" width="3.96" height="3.96" fill="#e8060f"/>
<rect x="491.19" y="135.47" width="3.96" height="3.96" fill="#e8060f"/>
<rect x="497.13" y="135.47" width="3.96" height="3.96" fill="#e8060f"/>
<rect x="503.07" y="135.47" width="3.96" height="3.96" fill="#e8060f"/>
<rect x="509.01" y="135.47" width="3.96" height="3.96" fill="#e8060f"/>
<rect x="514.95" y="135.47" width="3.96" height="3.96" fill="#e8060f"/>
<rect x="458.52" y="132.42" width="3.96" height="3.96" fill="#e8060f"/>
<rect x="464.46" y="132.42" width="3.96" height="3.96" fill="#e8060f"/>
<rect x="470.4" y="132.42" width="3.96" height="3.96" fill="#e8060f"/>
<rect x="476.34" y="132.42" width="3.96" height="3.96" fill="#e8060f"/>
<rect x="482.28" y="132.42" width="3.96" height="3.96" fill="#e8060f"/>
<rect x="488.22" y="132.42" width="3.96" height="3.96" fill="#e8060f"/>
<rect x="494.16" y="132.42" width="3.96" height="3.96" fill="#e8060f"/>
<rect x="500.1" y="132.42" width="3.96" height="3.96" fill="#e8060f"/>
<rect x="506.04" y="132.42" width="3.96" height="3.96" fill="#e8060f"/>
<rect x="511.98" y="132.42" width="3.96" height="3.96" fill="#e8060f"/>
<rect x="517.92" y="132.42" width="3.96" height="3.96" fill="#e8060f"/>
<rect x="461.49" y="129.37" width="3.96" height="3.96" fill="#e8060f"/>
<rect x="467.43" y="129.37" width="3.96" height="3.96" fill="#e8060f"/>
<rect x="473.37" y="129.37" width="3.96" height="3.96" fill="#e8060f"/>
<rect x="479.31" y="129.37" width="3.96" height="3.96" fill="#e8060f"/>
<rect x="485.25" y="129.37" width="3.96" height="3.96" fill="#e8060f"/>
<rect x="491.19" y="129.37" width="3.96" height="3.96" fill="#e8060f"/>
<rect x="497.13" y="129.37" width="3.96" height="3.96" fill="#e8060f"/>
<rect x="503.07" y="129.37" width="3.96" height="3.96" fill="#e8060f"/>
<rect x="509.01" y="129.37" width="3.96" height="3.96" fill="#e8060f"/>
<rect x="514.95" y="129.37" width="3.96" height="3.96" fill="#e8060f"/>
<rect x="458.52" y="126.32" width="3.96" height="3.96" fill="#e8060f"/>
<rect x="464.46" y="126.32" width="3.96" height="3.96" fill="#e8060f"/>
<rect x="470.4" y="126.32" width="3.96" height="3.96" fill="#e8060f"/>
<rect x="476.34" y="126.32" width="3.96" height="3.96" fill="#e8060f"/>
<rect x="482.28" y="126.32" width="3.96" height="3.96" fill="#e8060f"/>
<rect x="488.22" y="126.32" width="3.96" height="3.96" fill="#e8060f"/>
<rect x="494.16" y="126.32" width="3.96" height="3.96" fill="#e8060f"/>
<rect x="500.1" y="126.32" width="3.96" height="3.96" fill="#e8060f"/>
<rect x="506.04" y="126.32" width="3.96" height="3.96" fill="#e8060f"/>
<rect x="511.98" y="126.32" width="3.96" height="3.96" fill="#e8060f"/>
<rect x="517.92" y="126.32" width="3.96" height="3.96" fill="#e8060f"/>
<rect x="461.49" y="123.27" width="3.96" height="3.96" fill="#e8060f"/>
<rect x="467.43" y="123.27" width="3.96" height="3.96" fill="#e8060f"/>
<rect x="473.37" y="123.27" width="3.96" height="3.96" fill="#e8060f"/>
<rect x="479.31" y="123.27" width="3.96" height="3.96" fill="#e8060f"/>
<rect x="485.25" y="123.27" width="3.96" height="3.96" fill="#e8060f"/>
<rect x="491.19" y="123.27" width="3.96" height="3.96" fill="#e8060f"/>
<rect x="497.13" y="123.27" width="3.96" height="3.96" fill="#e8060f"/>
<rect x="503.07" y="123.27" width="3.96" height="3.96" fill="#e8060f"/>
<rect x="509.01" y="123.27" width="3.96" height="3.96" fill="#e8060f"/>
<rect x="514.95" y="123.27" width="3.96" height="3.96" fill="#e8060f"/>
<rect x="458.52" y="120.22" width="3.96" height="3.96" fill="#e8060f"/>
<rect x="464.46" y="120.22" width="3.96" height="3.96" fill="#e8060f"/>
<rect x="470.4" y="120.22" width="3.96" height="3.96" fill="#e8060f"/>
<rect x="476.34" y="120.22" width="3.96" height="3.96" fill="#e8060f"/>
<rect x="482.28" y="120.22" width="3.96" height="3.96" fill="#e8060f"/>
<rect x="488.22" y="120.22" width="3.96" height="3.96" fill="#e8060f"/>
<rect x="494.16" y="120.22" width="3.96" height="3.96" fill="#e8060f"/>
<rect x="500.1" y="120.22" width="3.96" height="3.96" fill="#e8060f"/>
<rect x="506.04" y="120.22" width="3.96" height="3.96" fill="#e8060f"/>
<rect x="511.98" y="120.22" width="3.96" height="3.96" fill="#e8060f"/>
<rect x="517.92" y="120.22" width="3.96" height="3.96" fill="#e8060f"/>
<line x1="457.5" y1="129.8" x2="522.9" y2="129.8" stroke="#111" stroke-width="1.9"/>
<line x1="473.6" y1="113.7" x2="506.8" y2="113.7" stroke="#111" stroke-width="1.9"/>
<line x1="473.6" y1="146.9" x2="506.8" y2="146.9" stroke="#111" stroke-width="1.9"/>
<line x1="490.2" y1="113.7" x2="490.2" y2="146.9" stroke="#111" stroke-width="1.9"/>
<circle cx="120.5" cy="218.7" r="2.05" fill="#0808ee"/>
<circle cx="120.5" cy="239.3" r="2.05" fill="#0808ee"/>
<circle cx="120.5" cy="245.9" r="2.05" fill="#0808ee"/>
<circle cx="114.3" cy="262.7" r="2.05" fill="#0808ee"/>
<circle cx="120.5" cy="264.4" r="2.05" fill="#0808ee"/>
<circle cx="114.3" cy="269" r="2.05" fill="#0808ee"/>
<circle cx="126.4" cy="271.2" r="2.05" fill="#0808ee"/>
<circle cx="120.5" cy="273.3" r="2.05" fill="#0808ee"/>
<circle cx="114.3" cy="276.2" r="2.05" fill="#0808ee"/>
<circle cx="120.5" cy="281.3" r="2.05" fill="#0808ee"/>
<circle cx="96.5" cy="284.7" r="2.05" fill="#0808ee"/>
<circle cx="102.4" cy="286.4" r="2.05" fill="#0808ee"/>
<circle cx="144.4" cy="285.6" r="2.05" fill="#0808ee"/>
<circle cx="150.3" cy="284.3" r="2.05" fill="#0808ee"/>
<circle cx="108.3" cy="289" r="2.05" fill="#0808ee"/>
<circle cx="114.3" cy="289" r="2.05" fill="#0808ee"/>
<circle cx="120.5" cy="289" r="2.05" fill="#0808ee"/>
<circle cx="126.4" cy="289" r="2.05" fill="#0808ee"/>
<circle cx="132.5" cy="289" r="2.05" fill="#0808ee"/>
<circle cx="138.5" cy="288.5" r="2.05" fill="#0808ee"/>
<circle cx="111.3" cy="292.5" r="2.05" fill="#0808ee"/>
<circle cx="117.2" cy="292.5" r="2.05" fill="#0808ee"/>
<circle cx="123.6" cy="292.5" r="2.05" fill="#0808ee"/>
<circle cx="129.1" cy="292.5" r="2.05" fill="#0808ee"/>
<circle cx="90.5" cy="295.2" r="2.05" fill="#0808ee"/>
<circle cx="96.5" cy="295.2" r="2.05" fill="#0808ee"/>
<circle cx="102.4" cy="295.2" r="2.05" fill="#0808ee"/>
<circle cx="138.5" cy="295.2" r="2.05" fill="#0808ee"/>
<circle cx="144.4" cy="295.2" r="2.05" fill="#0808ee"/>
<circle cx="150.3" cy="295.2" r="2.05" fill="#0808ee"/>
<circle cx="120.3" cy="331" r="2.05" fill="#0808ee"/>
<circle cx="90.6" cy="325.8" r="2.18" fill="#0808ee"/>
<circle cx="96.54" cy="325.8" r="2.18" fill="#0808ee"/>
<circle cx="102.48" cy="325.8" r="2.18" fill="#0808ee"/>
<circle cx="108.42" cy="325.8" r="2.18" fill="#0808ee"/>
<circle cx="114.36" cy="325.8" r="2.18" fill="#0808ee"/>
<circle cx="120.3" cy="325.8" r="2.18" fill="#0808ee"/>
<circle cx="126.24" cy="325.8" r="2.18" fill="#0808ee"/>
<circle cx="132.18" cy="325.8" r="2.18" fill="#0808ee"/>
<circle cx="138.12" cy="325.8" r="2.18" fill="#0808ee"/>
<circle cx="144.06" cy="325.8" r="2.18" fill="#0808ee"/>
<circle cx="150" cy="325.8" r="2.18" fill="#0808ee"/>
<circle cx="93.57" cy="323.15" r="2.18" fill="#0808ee"/>
<circle cx="99.51" cy="323.15" r="2.18" fill="#0808ee"/>
<circle cx="105.45" cy="323.15" r="2.18" fill="#0808ee"/>
<circle cx="111.39" cy="323.15" r="2.18" fill="#0808ee"/>
<circle cx="117.33" cy="323.15" r="2.18" fill="#0808ee"/>
<circle cx="123.27" cy="323.15" r="2.18" fill="#0808ee"/>
<circle cx="129.21" cy="323.15" r="2.18" fill="#0808ee"/>
<circle cx="135.15" cy="323.15" r="2.18" fill="#0808ee"/>
<circle cx="141.09" cy="323.15" r="2.18" fill="#0808ee"/>
<circle cx="147.03" cy="323.15" r="2.18" fill="#0808ee"/>
<circle cx="90.6" cy="320.5" r="2.18" fill="#0808ee"/>
<circle cx="96.54" cy="320.5" r="2.18" fill="#0808ee"/>
<circle cx="102.48" cy="320.5" r="2.18" fill="#0808ee"/>
<circle cx="108.42" cy="320.5" r="2.18" fill="#0808ee"/>
<circle cx="114.36" cy="320.5" r="2.18" fill="#0808ee"/>
<circle cx="120.3" cy="320.5" r="2.18" fill="#0808ee"/>
<circle cx="126.24" cy="320.5" r="2.18" fill="#0808ee"/>
<circle cx="132.18" cy="320.5" r="2.18" fill="#0808ee"/>
<circle cx="138.12" cy="320.5" r="2.18" fill="#0808ee"/>
<circle cx="144.06" cy="320.5" r="2.18" fill="#0808ee"/>
<circle cx="150" cy="320.5" r="2.18" fill="#0808ee"/>
<circle cx="93.57" cy="317.85" r="2.18" fill="#0808ee"/>
<circle cx="99.51" cy="317.85" r="2.18" fill="#0808ee"/>
<circle cx="105.45" cy="317.85" r="2.18" fill="#0808ee"/>
<circle cx="111.39" cy="317.85" r="2.18" fill="#0808ee"/>
<circle cx="117.33" cy="317.85" r="2.18" fill="#0808ee"/>
<circle cx="123.27" cy="317.85" r="2.18" fill="#0808ee"/>
<circle cx="129.21" cy="317.85" r="2.18" fill="#0808ee"/>
<circle cx="135.15" cy="317.85" r="2.18" fill="#0808ee"/>
<circle cx="141.09" cy="317.85" r="2.18" fill="#0808ee"/>
<circle cx="147.03" cy="317.85" r="2.18" fill="#0808ee"/>
<circle cx="90.6" cy="315.2" r="2.18" fill="#0808ee"/>
<circle cx="96.54" cy="315.2" r="2.18" fill="#0808ee"/>
<circle cx="102.48" cy="315.2" r="2.18" fill="#0808ee"/>
<circle cx="108.42" cy="315.2" r="2.18" fill="#0808ee"/>
<circle cx="114.36" cy="315.2" r="2.18" fill="#0808ee"/>
<circle cx="120.3" cy="315.2" r="2.18" fill="#0808ee"/>
<circle cx="126.24" cy="315.2" r="2.18" fill="#0808ee"/>
<circle cx="132.18" cy="315.2" r="2.18" fill="#0808ee"/>
<circle cx="138.12" cy="315.2" r="2.18" fill="#0808ee"/>
<circle cx="144.06" cy="315.2" r="2.18" fill="#0808ee"/>
<circle cx="150" cy="315.2" r="2.18" fill="#0808ee"/>
<circle cx="93.57" cy="312.55" r="2.18" fill="#0808ee"/>
<circle cx="99.51" cy="312.55" r="2.18" fill="#0808ee"/>
<circle cx="105.45" cy="312.55" r="2.18" fill="#0808ee"/>
<circle cx="111.39" cy="312.55" r="2.18" fill="#0808ee"/>
<circle cx="117.33" cy="312.55" r="2.18" fill="#0808ee"/>
<circle cx="123.27" cy="312.55" r="2.18" fill="#0808ee"/>
<circle cx="129.21" cy="312.55" r="2.18" fill="#0808ee"/>
<circle cx="135.15" cy="312.55" r="2.18" fill="#0808ee"/>
<circle cx="141.09" cy="312.55" r="2.18" fill="#0808ee"/>
<circle cx="147.03" cy="312.55" r="2.18" fill="#0808ee"/>
<circle cx="90.6" cy="309.9" r="2.18" fill="#0808ee"/>
<circle cx="96.54" cy="309.9" r="2.18" fill="#0808ee"/>
<circle cx="102.48" cy="309.9" r="2.18" fill="#0808ee"/>
<circle cx="108.42" cy="309.9" r="2.18" fill="#0808ee"/>
<circle cx="114.36" cy="309.9" r="2.18" fill="#0808ee"/>
<circle cx="120.3" cy="309.9" r="2.18" fill="#0808ee"/>
<circle cx="126.24" cy="309.9" r="2.18" fill="#0808ee"/>
<circle cx="132.18" cy="309.9" r="2.18" fill="#0808ee"/>
<circle cx="138.12" cy="309.9" r="2.18" fill="#0808ee"/>
<circle cx="144.06" cy="309.9" r="2.18" fill="#0808ee"/>
<circle cx="150" cy="309.9" r="2.18" fill="#0808ee"/>
<circle cx="93.57" cy="307.25" r="2.18" fill="#0808ee"/>
<circle cx="99.51" cy="307.25" r="2.18" fill="#0808ee"/>
<circle cx="105.45" cy="307.25" r="2.18" fill="#0808ee"/>
<circle cx="111.39" cy="307.25" r="2.18" fill="#0808ee"/>
<circle cx="117.33" cy="307.25" r="2.18" fill="#0808ee"/>
<circle cx="123.27" cy="307.25" r="2.18" fill="#0808ee"/>
<circle cx="129.21" cy="307.25" r="2.18" fill="#0808ee"/>
<circle cx="135.15" cy="307.25" r="2.18" fill="#0808ee"/>
<circle cx="141.09" cy="307.25" r="2.18" fill="#0808ee"/>
<circle cx="147.03" cy="307.25" r="2.18" fill="#0808ee"/>
<circle cx="90.6" cy="304.6" r="2.18" fill="#0808ee"/>
<circle cx="96.54" cy="304.6" r="2.18" fill="#0808ee"/>
<circle cx="102.48" cy="304.6" r="2.18" fill="#0808ee"/>
<circle cx="108.42" cy="304.6" r="2.18" fill="#0808ee"/>
<circle cx="114.36" cy="304.6" r="2.18" fill="#0808ee"/>
<circle cx="120.3" cy="304.6" r="2.18" fill="#0808ee"/>
<circle cx="126.24" cy="304.6" r="2.18" fill="#0808ee"/>
<circle cx="132.18" cy="304.6" r="2.18" fill="#0808ee"/>
<circle cx="138.12" cy="304.6" r="2.18" fill="#0808ee"/>
<circle cx="144.06" cy="304.6" r="2.18" fill="#0808ee"/>
<circle cx="150" cy="304.6" r="2.18" fill="#0808ee"/>
<circle cx="93.57" cy="301.95" r="2.18" fill="#0808ee"/>
<circle cx="99.51" cy="301.95" r="2.18" fill="#0808ee"/>
<circle cx="105.45" cy="301.95" r="2.18" fill="#0808ee"/>
<circle cx="111.39" cy="301.95" r="2.18" fill="#0808ee"/>
<circle cx="117.33" cy="301.95" r="2.18" fill="#0808ee"/>
<circle cx="123.27" cy="301.95" r="2.18" fill="#0808ee"/>
<circle cx="129.21" cy="301.95" r="2.18" fill="#0808ee"/>
<circle cx="135.15" cy="301.95" r="2.18" fill="#0808ee"/>
<circle cx="141.09" cy="301.95" r="2.18" fill="#0808ee"/>
<circle cx="147.03" cy="301.95" r="2.18" fill="#0808ee"/>
<circle cx="90.6" cy="299.3" r="2.18" fill="#0808ee"/>
<circle cx="96.54" cy="299.3" r="2.18" fill="#0808ee"/>
<circle cx="102.48" cy="299.3" r="2.18" fill="#0808ee"/>
<circle cx="108.42" cy="299.3" r="2.18" fill="#0808ee"/>
<circle cx="114.36" cy="299.3" r="2.18" fill="#0808ee"/>
<circle cx="120.3" cy="299.3" r="2.18" fill="#0808ee"/>
<circle cx="126.24" cy="299.3" r="2.18" fill="#0808ee"/>
<circle cx="132.18" cy="299.3" r="2.18" fill="#0808ee"/>
<circle cx="138.12" cy="299.3" r="2.18" fill="#0808ee"/>
<circle cx="144.06" cy="299.3" r="2.18" fill="#0808ee"/>
<circle cx="150" cy="299.3" r="2.18" fill="#0808ee"/>
<line x1="87" y1="310.6" x2="153.6" y2="310.6" stroke="#111" stroke-width="1.9"/>
<line x1="103.2" y1="296.4" x2="137.4" y2="296.4" stroke="#111" stroke-width="1.9"/>
<line x1="103.2" y1="324.3" x2="137.4" y2="324.3" stroke="#111" stroke-width="1.9"/>
<line x1="120.3" y1="296.4" x2="120.3" y2="324.3" stroke="#111" stroke-width="1.9"/>
<rect x="218.35" y="221.46" width="3.69" height="3.69" fill="#e8060f"/>
<rect x="218.35" y="261.85" width="3.69" height="3.69" fill="#e8060f"/>
<rect x="212.46" y="272.85" width="3.69" height="3.69" fill="#e8060f"/>
<rect x="224.35" y="272.85" width="3.69" height="3.69" fill="#e8060f"/>
<rect x="230.25" y="272.05" width="3.69" height="3.69" fill="#e8060f"/>
<rect x="218.35" y="276.65" width="3.69" height="3.69" fill="#e8060f"/>
<rect x="230.25" y="277.95" width="3.69" height="3.69" fill="#e8060f"/>
<rect x="206.46" y="280.05" width="3.69" height="3.69" fill="#e8060f"/>
<rect x="212.46" y="282.25" width="3.69" height="3.69" fill="#e8060f"/>
<rect x="218.35" y="282.85" width="3.69" height="3.69" fill="#e8060f"/>
<rect x="224.35" y="281.75" width="3.69" height="3.69" fill="#e8060f"/>
<rect x="230.25" y="284.35" width="3.69" height="3.69" fill="#e8060f"/>
<rect x="212.46" y="285.15" width="3.69" height="3.69" fill="#e8060f"/>
<rect x="206.46" y="290.65" width="3.69" height="3.69" fill="#e8060f"/>
<rect x="224.35" y="290.25" width="3.69" height="3.69" fill="#e8060f"/>
<rect x="230.25" y="290.25" width="3.69" height="3.69" fill="#e8060f"/>
<rect x="212.46" y="294.95" width="3.69" height="3.69" fill="#e8060f"/>
<rect x="224.35" y="294.95" width="3.69" height="3.69" fill="#e8060f"/>
<rect x="194.66" y="297.45" width="3.69" height="3.69" fill="#e8060f"/>
<rect x="242.16" y="297.65" width="3.69" height="3.69" fill="#e8060f"/>
<rect x="200.56" y="300.45" width="3.69" height="3.69" fill="#e8060f"/>
<rect x="206.46" y="301.45" width="3.69" height="3.69" fill="#e8060f"/>
<rect x="212.46" y="301.45" width="3.69" height="3.69" fill="#e8060f"/>
<rect x="224.35" y="301.45" width="3.69" height="3.69" fill="#e8060f"/>
<rect x="230.25" y="301.45" width="3.69" height="3.69" fill="#e8060f"/>
<rect x="236.16" y="300.45" width="3.69" height="3.69" fill="#e8060f"/>
<rect x="218.25" y="299.65" width="3.69" height="3.69" fill="#e8060f"/>
<rect x="206.46" y="323.75" width="3.69" height="3.69" fill="#e8060f"/>
<rect x="212.46" y="323.75" width="3.69" height="3.69" fill="#e8060f"/>
<rect x="224.35" y="323.75" width="3.69" height="3.69" fill="#e8060f"/>
<rect x="230.25" y="323.75" width="3.69" height="3.69" fill="#e8060f"/>
<rect x="218.25" y="327.95" width="3.69" height="3.69" fill="#e8060f"/>
<rect x="188.33" y="319.33" width="4.14" height="4.14" fill="#e8060f"/>
<rect x="194.27" y="319.33" width="4.14" height="4.14" fill="#e8060f"/>
<rect x="200.21" y="319.33" width="4.14" height="4.14" fill="#e8060f"/>
<rect x="206.15" y="319.33" width="4.14" height="4.14" fill="#e8060f"/>
<rect x="212.09" y="319.33" width="4.14" height="4.14" fill="#e8060f"/>
<rect x="218.03" y="319.33" width="4.14" height="4.14" fill="#e8060f"/>
<rect x="223.97" y="319.33" width="4.14" height="4.14" fill="#e8060f"/>
<rect x="229.91" y="319.33" width="4.14" height="4.14" fill="#e8060f"/>
<rect x="235.85" y="319.33" width="4.14" height="4.14" fill="#e8060f"/>
<rect x="241.79" y="319.33" width="4.14" height="4.14" fill="#e8060f"/>
<rect x="247.73" y="319.33" width="4.14" height="4.14" fill="#e8060f"/>
<rect x="191.3" y="316.13" width="4.14" height="4.14" fill="#e8060f"/>
<rect x="197.24" y="316.13" width="4.14" height="4.14" fill="#e8060f"/>
<rect x="203.18" y="316.13" width="4.14" height="4.14" fill="#e8060f"/>
<rect x="209.12" y="316.13" width="4.14" height="4.14" fill="#e8060f"/>
<rect x="215.06" y="316.13" width="4.14" height="4.14" fill="#e8060f"/>
<rect x="221" y="316.13" width="4.14" height="4.14" fill="#e8060f"/>
<rect x="226.94" y="316.13" width="4.14" height="4.14" fill="#e8060f"/>
<rect x="232.88" y="316.13" width="4.14" height="4.14" fill="#e8060f"/>
<rect x="238.82" y="316.13" width="4.14" height="4.14" fill="#e8060f"/>
<rect x="244.76" y="316.13" width="4.14" height="4.14" fill="#e8060f"/>
<rect x="188.33" y="312.93" width="4.14" height="4.14" fill="#e8060f"/>
<rect x="194.27" y="312.93" width="4.14" height="4.14" fill="#e8060f"/>
<rect x="200.21" y="312.93" width="4.14" height="4.14" fill="#e8060f"/>
<rect x="206.15" y="312.93" width="4.14" height="4.14" fill="#e8060f"/>
<rect x="212.09" y="312.93" width="4.14" height="4.14" fill="#e8060f"/>
<rect x="218.03" y="312.93" width="4.14" height="4.14" fill="#e8060f"/>
<rect x="223.97" y="312.93" width="4.14" height="4.14" fill="#e8060f"/>
<rect x="229.91" y="312.93" width="4.14" height="4.14" fill="#e8060f"/>
<rect x="235.85" y="312.93" width="4.14" height="4.14" fill="#e8060f"/>
<rect x="241.79" y="312.93" width="4.14" height="4.14" fill="#e8060f"/>
<rect x="247.73" y="312.93" width="4.14" height="4.14" fill="#e8060f"/>
<rect x="191.3" y="309.73" width="4.14" height="4.14" fill="#e8060f"/>
<rect x="197.24" y="309.73" width="4.14" height="4.14" fill="#e8060f"/>
<rect x="203.18" y="309.73" width="4.14" height="4.14" fill="#e8060f"/>
<rect x="209.12" y="309.73" width="4.14" height="4.14" fill="#e8060f"/>
<rect x="215.06" y="309.73" width="4.14" height="4.14" fill="#e8060f"/>
<rect x="221" y="309.73" width="4.14" height="4.14" fill="#e8060f"/>
<rect x="226.94" y="309.73" width="4.14" height="4.14" fill="#e8060f"/>
<rect x="232.88" y="309.73" width="4.14" height="4.14" fill="#e8060f"/>
<rect x="238.82" y="309.73" width="4.14" height="4.14" fill="#e8060f"/>
<rect x="244.76" y="309.73" width="4.14" height="4.14" fill="#e8060f"/>
<rect x="188.33" y="306.53" width="4.14" height="4.14" fill="#e8060f"/>
<rect x="194.27" y="306.53" width="4.14" height="4.14" fill="#e8060f"/>
<rect x="200.21" y="306.53" width="4.14" height="4.14" fill="#e8060f"/>
<rect x="206.15" y="306.53" width="4.14" height="4.14" fill="#e8060f"/>
<rect x="212.09" y="306.53" width="4.14" height="4.14" fill="#e8060f"/>
<rect x="218.03" y="306.53" width="4.14" height="4.14" fill="#e8060f"/>
<rect x="223.97" y="306.53" width="4.14" height="4.14" fill="#e8060f"/>
<rect x="229.91" y="306.53" width="4.14" height="4.14" fill="#e8060f"/>
<rect x="235.85" y="306.53" width="4.14" height="4.14" fill="#e8060f"/>
<rect x="241.79" y="306.53" width="4.14" height="4.14" fill="#e8060f"/>
<rect x="247.73" y="306.53" width="4.14" height="4.14" fill="#e8060f"/>
<line x1="186.3" y1="306.8" x2="253.9" y2="306.8" stroke="#111" stroke-width="1.9"/>
<line x1="203.3" y1="290.3" x2="236.9" y2="290.3" stroke="#111" stroke-width="1.9"/>
<line x1="203.3" y1="322.7" x2="236.9" y2="322.7" stroke="#111" stroke-width="1.9"/>
<line x1="220.1" y1="290.3" x2="220.1" y2="322.7" stroke="#111" stroke-width="1.9"/>
<circle cx="398.9" cy="217.3" r="2.05" fill="#0808ee"/>
<circle cx="398.9" cy="237.9" r="2.05" fill="#0808ee"/>
<circle cx="398.9" cy="244.3" r="2.05" fill="#0808ee"/>
<circle cx="398.8" cy="261.1" r="2.05" fill="#0808ee"/>
<circle cx="398.8" cy="269.6" r="2.05" fill="#0808ee"/>
<circle cx="405" cy="267.5" r="2.05" fill="#0808ee"/>
<circle cx="393.1" cy="274.7" r="2.05" fill="#0808ee"/>
<circle cx="398.8" cy="279.8" r="2.05" fill="#0808ee"/>
<circle cx="375.5" cy="283" r="2.05" fill="#0808ee"/>
<circle cx="381.4" cy="284.4" r="2.05" fill="#0808ee"/>
<circle cx="422.5" cy="283.6" r="2.05" fill="#0808ee"/>
<circle cx="428.5" cy="282.5" r="2.05" fill="#0808ee"/>
<circle cx="387.3" cy="287" r="2.05" fill="#0808ee"/>
<circle cx="393.1" cy="287" r="2.05" fill="#0808ee"/>
<circle cx="398.8" cy="287" r="2.05" fill="#0808ee"/>
<circle cx="405" cy="287" r="2.05" fill="#0808ee"/>
<circle cx="410.7" cy="287" r="2.05" fill="#0808ee"/>
<circle cx="416.6" cy="286.5" r="2.05" fill="#0808ee"/>
<circle cx="395.8" cy="290.4" r="2.05" fill="#0808ee"/>
<circle cx="401.8" cy="290.4" r="2.05" fill="#0808ee"/>
<circle cx="369.5" cy="292.5" r="2.05" fill="#0808ee"/>
<circle cx="375.5" cy="292.5" r="2.05" fill="#0808ee"/>
<circle cx="381.4" cy="292.5" r="2.05" fill="#0808ee"/>
<circle cx="387.3" cy="292.5" r="2.05" fill="#0808ee"/>
<circle cx="410.7" cy="292.5" r="2.05" fill="#0808ee"/>
<circle cx="416.6" cy="292.5" r="2.05" fill="#0808ee"/>
<circle cx="422.5" cy="292.5" r="2.05" fill="#0808ee"/>
<circle cx="428.5" cy="292.5" r="2.05" fill="#0808ee"/>
<circle cx="398.8" cy="329" r="2.05" fill="#0808ee"/>
<circle cx="369.1" cy="323.6" r="2.18" fill="#0808ee"/>
<circle cx="375.04" cy="323.6" r="2.18" fill="#0808ee"/>
<circle cx="380.98" cy="323.6" r="2.18" fill="#0808ee"/>
<circle cx="386.92" cy="323.6" r="2.18" fill="#0808ee"/>
<circle cx="392.86" cy="323.6" r="2.18" fill="#0808ee"/>
<circle cx="398.8" cy="323.6" r="2.18" fill="#0808ee"/>
<circle cx="404.74" cy="323.6" r="2.18" fill="#0808ee"/>
<circle cx="410.68" cy="323.6" r="2.18" fill="#0808ee"/>
<circle cx="416.62" cy="323.6" r="2.18" fill="#0808ee"/>
<circle cx="422.56" cy="323.6" r="2.18" fill="#0808ee"/>
<circle cx="428.5" cy="323.6" r="2.18" fill="#0808ee"/>
<circle cx="372.07" cy="320.95" r="2.18" fill="#0808ee"/>
<circle cx="378.01" cy="320.95" r="2.18" fill="#0808ee"/>
<circle cx="383.95" cy="320.95" r="2.18" fill="#0808ee"/>
<circle cx="389.89" cy="320.95" r="2.18" fill="#0808ee"/>
<circle cx="395.83" cy="320.95" r="2.18" fill="#0808ee"/>
<circle cx="401.77" cy="320.95" r="2.18" fill="#0808ee"/>
<circle cx="407.71" cy="320.95" r="2.18" fill="#0808ee"/>
<circle cx="413.65" cy="320.95" r="2.18" fill="#0808ee"/>
<circle cx="419.59" cy="320.95" r="2.18" fill="#0808ee"/>
<circle cx="425.53" cy="320.95" r="2.18" fill="#0808ee"/>
<circle cx="369.1" cy="318.3" r="2.18" fill="#0808ee"/>
<circle cx="375.04" cy="318.3" r="2.18" fill="#0808ee"/>
<circle cx="380.98" cy="318.3" r="2.18" fill="#0808ee"/>
<circle cx="386.92" cy="318.3" r="2.18" fill="#0808ee"/>
<circle cx="392.86" cy="318.3" r="2.18" fill="#0808ee"/>
<circle cx="398.8" cy="318.3" r="2.18" fill="#0808ee"/>
<circle cx="404.74" cy="318.3" r="2.18" fill="#0808ee"/>
<circle cx="410.68" cy="318.3" r="2.18" fill="#0808ee"/>
<circle cx="416.62" cy="318.3" r="2.18" fill="#0808ee"/>
<circle cx="422.56" cy="318.3" r="2.18" fill="#0808ee"/>
<circle cx="428.5" cy="318.3" r="2.18" fill="#0808ee"/>
<circle cx="372.07" cy="315.65" r="2.18" fill="#0808ee"/>
<circle cx="378.01" cy="315.65" r="2.18" fill="#0808ee"/>
<circle cx="383.95" cy="315.65" r="2.18" fill="#0808ee"/>
<circle cx="389.89" cy="315.65" r="2.18" fill="#0808ee"/>
<circle cx="395.83" cy="315.65" r="2.18" fill="#0808ee"/>
<circle cx="401.77" cy="315.65" r="2.18" fill="#0808ee"/>
<circle cx="407.71" cy="315.65" r="2.18" fill="#0808ee"/>
<circle cx="413.65" cy="315.65" r="2.18" fill="#0808ee"/>
<circle cx="419.59" cy="315.65" r="2.18" fill="#0808ee"/>
<circle cx="425.53" cy="315.65" r="2.18" fill="#0808ee"/>
<circle cx="369.1" cy="313" r="2.18" fill="#0808ee"/>
<circle cx="375.04" cy="313" r="2.18" fill="#0808ee"/>
<circle cx="380.98" cy="313" r="2.18" fill="#0808ee"/>
<circle cx="386.92" cy="313" r="2.18" fill="#0808ee"/>
<circle cx="392.86" cy="313" r="2.18" fill="#0808ee"/>
<circle cx="398.8" cy="313" r="2.18" fill="#0808ee"/>
<circle cx="404.74" cy="313" r="2.18" fill="#0808ee"/>
<circle cx="410.68" cy="313" r="2.18" fill="#0808ee"/>
<circle cx="416.62" cy="313" r="2.18" fill="#0808ee"/>
<circle cx="422.56" cy="313" r="2.18" fill="#0808ee"/>
<circle cx="428.5" cy="313" r="2.18" fill="#0808ee"/>
<circle cx="372.07" cy="310.35" r="2.18" fill="#0808ee"/>
<circle cx="378.01" cy="310.35" r="2.18" fill="#0808ee"/>
<circle cx="383.95" cy="310.35" r="2.18" fill="#0808ee"/>
<circle cx="389.89" cy="310.35" r="2.18" fill="#0808ee"/>
<circle cx="395.83" cy="310.35" r="2.18" fill="#0808ee"/>
<circle cx="401.77" cy="310.35" r="2.18" fill="#0808ee"/>
<circle cx="407.71" cy="310.35" r="2.18" fill="#0808ee"/>
<circle cx="413.65" cy="310.35" r="2.18" fill="#0808ee"/>
<circle cx="419.59" cy="310.35" r="2.18" fill="#0808ee"/>
<circle cx="425.53" cy="310.35" r="2.18" fill="#0808ee"/>
<circle cx="369.1" cy="307.7" r="2.18" fill="#0808ee"/>
<circle cx="375.04" cy="307.7" r="2.18" fill="#0808ee"/>
<circle cx="380.98" cy="307.7" r="2.18" fill="#0808ee"/>
<circle cx="386.92" cy="307.7" r="2.18" fill="#0808ee"/>
<circle cx="392.86" cy="307.7" r="2.18" fill="#0808ee"/>
<circle cx="398.8" cy="307.7" r="2.18" fill="#0808ee"/>
<circle cx="404.74" cy="307.7" r="2.18" fill="#0808ee"/>
<circle cx="410.68" cy="307.7" r="2.18" fill="#0808ee"/>
<circle cx="416.62" cy="307.7" r="2.18" fill="#0808ee"/>
<circle cx="422.56" cy="307.7" r="2.18" fill="#0808ee"/>
<circle cx="428.5" cy="307.7" r="2.18" fill="#0808ee"/>
<circle cx="372.07" cy="305.05" r="2.18" fill="#0808ee"/>
<circle cx="378.01" cy="305.05" r="2.18" fill="#0808ee"/>
<circle cx="383.95" cy="305.05" r="2.18" fill="#0808ee"/>
<circle cx="389.89" cy="305.05" r="2.18" fill="#0808ee"/>
<circle cx="395.83" cy="305.05" r="2.18" fill="#0808ee"/>
<circle cx="401.77" cy="305.05" r="2.18" fill="#0808ee"/>
<circle cx="407.71" cy="305.05" r="2.18" fill="#0808ee"/>
<circle cx="413.65" cy="305.05" r="2.18" fill="#0808ee"/>
<circle cx="419.59" cy="305.05" r="2.18" fill="#0808ee"/>
<circle cx="425.53" cy="305.05" r="2.18" fill="#0808ee"/>
<circle cx="369.1" cy="302.4" r="2.18" fill="#0808ee"/>
<circle cx="375.04" cy="302.4" r="2.18" fill="#0808ee"/>
<circle cx="380.98" cy="302.4" r="2.18" fill="#0808ee"/>
<circle cx="386.92" cy="302.4" r="2.18" fill="#0808ee"/>
<circle cx="392.86" cy="302.4" r="2.18" fill="#0808ee"/>
<circle cx="398.8" cy="302.4" r="2.18" fill="#0808ee"/>
<circle cx="404.74" cy="302.4" r="2.18" fill="#0808ee"/>
<circle cx="410.68" cy="302.4" r="2.18" fill="#0808ee"/>
<circle cx="416.62" cy="302.4" r="2.18" fill="#0808ee"/>
<circle cx="422.56" cy="302.4" r="2.18" fill="#0808ee"/>
<circle cx="428.5" cy="302.4" r="2.18" fill="#0808ee"/>
<circle cx="372.07" cy="299.75" r="2.18" fill="#0808ee"/>
<circle cx="378.01" cy="299.75" r="2.18" fill="#0808ee"/>
<circle cx="383.95" cy="299.75" r="2.18" fill="#0808ee"/>
<circle cx="389.89" cy="299.75" r="2.18" fill="#0808ee"/>
<circle cx="395.83" cy="299.75" r="2.18" fill="#0808ee"/>
<circle cx="401.77" cy="299.75" r="2.18" fill="#0808ee"/>
<circle cx="407.71" cy="299.75" r="2.18" fill="#0808ee"/>
<circle cx="413.65" cy="299.75" r="2.18" fill="#0808ee"/>
<circle cx="419.59" cy="299.75" r="2.18" fill="#0808ee"/>
<circle cx="425.53" cy="299.75" r="2.18" fill="#0808ee"/>
<circle cx="369.1" cy="297.1" r="2.18" fill="#0808ee"/>
<circle cx="375.04" cy="297.1" r="2.18" fill="#0808ee"/>
<circle cx="380.98" cy="297.1" r="2.18" fill="#0808ee"/>
<circle cx="386.92" cy="297.1" r="2.18" fill="#0808ee"/>
<circle cx="392.86" cy="297.1" r="2.18" fill="#0808ee"/>
<circle cx="398.8" cy="297.1" r="2.18" fill="#0808ee"/>
<circle cx="404.74" cy="297.1" r="2.18" fill="#0808ee"/>
<circle cx="410.68" cy="297.1" r="2.18" fill="#0808ee"/>
<circle cx="416.62" cy="297.1" r="2.18" fill="#0808ee"/>
<circle cx="422.56" cy="297.1" r="2.18" fill="#0808ee"/>
<circle cx="428.5" cy="297.1" r="2.18" fill="#0808ee"/>
<line x1="365.6" y1="309.4" x2="432" y2="309.4" stroke="#111" stroke-width="1.9"/>
<line x1="382" y1="295.2" x2="415.6" y2="295.2" stroke="#111" stroke-width="1.9"/>
<line x1="382" y1="323.1" x2="415.6" y2="323.1" stroke="#111" stroke-width="1.9"/>
<line x1="398.8" y1="295.2" x2="398.8" y2="323.1" stroke="#111" stroke-width="1.9"/>
<rect x="495.85" y="219.56" width="3.69" height="3.69" fill="#e8060f"/>
<rect x="490.05" y="260.15" width="3.69" height="3.69" fill="#e8060f"/>
<rect x="496.05" y="260.75" width="3.69" height="3.69" fill="#e8060f"/>
<rect x="490.05" y="270.15" width="3.69" height="3.69" fill="#e8060f"/>
<rect x="496.05" y="270.85" width="3.69" height="3.69" fill="#e8060f"/>
<rect x="501.95" y="270.65" width="3.69" height="3.69" fill="#e8060f"/>
<rect x="508.05" y="269.75" width="3.69" height="3.69" fill="#e8060f"/>
<rect x="508.05" y="274.55" width="3.69" height="3.69" fill="#e8060f"/>
<rect x="484.15" y="276.05" width="3.69" height="3.69" fill="#e8060f"/>
<rect x="501.95" y="278.05" width="3.69" height="3.69" fill="#e8060f"/>
<rect x="490.05" y="280.05" width="3.69" height="3.69" fill="#e8060f"/>
<rect x="496.05" y="280.25" width="3.69" height="3.69" fill="#e8060f"/>
<rect x="490.05" y="282.05" width="3.69" height="3.69" fill="#e8060f"/>
<rect x="508.05" y="282.35" width="3.69" height="3.69" fill="#e8060f"/>
<rect x="484.15" y="287.95" width="3.69" height="3.69" fill="#e8060f"/>
<rect x="501.95" y="287.35" width="3.69" height="3.69" fill="#e8060f"/>
<rect x="508.05" y="287.95" width="3.69" height="3.69" fill="#e8060f"/>
<rect x="490.05" y="292.75" width="3.69" height="3.69" fill="#e8060f"/>
<rect x="501.95" y="293.15" width="3.69" height="3.69" fill="#e8060f"/>
<rect x="484.15" y="297.35" width="3.69" height="3.69" fill="#e8060f"/>
<rect x="513.75" y="295.85" width="3.69" height="3.69" fill="#e8060f"/>
<rect x="490.05" y="299.05" width="3.69" height="3.69" fill="#e8060f"/>
<rect x="508.05" y="299.05" width="3.69" height="3.69" fill="#e8060f"/>
<rect x="495.85" y="296.15" width="3.69" height="3.69" fill="#e8060f"/>
<rect x="472.25" y="299.65" width="3.69" height="3.69" fill="#e8060f"/>
<rect x="519.65" y="299.65" width="3.69" height="3.69" fill="#e8060f"/>
<rect x="495.85" y="327.15" width="3.69" height="3.69" fill="#e8060f"/>
<rect x="465.93" y="315.43" width="4.14" height="4.14" fill="#e8060f"/>
<rect x="471.87" y="315.43" width="4.14" height="4.14" fill="#e8060f"/>
<rect x="477.81" y="315.43" width="4.14" height="4.14" fill="#e8060f"/>
<rect x="483.75" y="315.43" width="4.14" height="4.14" fill="#e8060f"/>
<rect x="489.69" y="315.43" width="4.14" height="4.14" fill="#e8060f"/>
<rect x="495.63" y="315.43" width="4.14" height="4.14" fill="#e8060f"/>
<rect x="501.57" y="315.43" width="4.14" height="4.14" fill="#e8060f"/>
<rect x="507.51" y="315.43" width="4.14" height="4.14" fill="#e8060f"/>
<rect x="513.45" y="315.43" width="4.14" height="4.14" fill="#e8060f"/>
<rect x="519.39" y="315.43" width="4.14" height="4.14" fill="#e8060f"/>
<rect x="525.33" y="315.43" width="4.14" height="4.14" fill="#e8060f"/>
<rect x="468.9" y="312.33" width="4.14" height="4.14" fill="#e8060f"/>
<rect x="474.84" y="312.33" width="4.14" height="4.14" fill="#e8060f"/>
<rect x="480.78" y="312.33" width="4.14" height="4.14" fill="#e8060f"/>
<rect x="486.72" y="312.33" width="4.14" height="4.14" fill="#e8060f"/>
<rect x="492.66" y="312.33" width="4.14" height="4.14" fill="#e8060f"/>
<rect x="498.6" y="312.33" width="4.14" height="4.14" fill="#e8060f"/>
<rect x="504.54" y="312.33" width="4.14" height="4.14" fill="#e8060f"/>
<rect x="510.48" y="312.33" width="4.14" height="4.14" fill="#e8060f"/>
<rect x="516.42" y="312.33" width="4.14" height="4.14" fill="#e8060f"/>
<rect x="522.36" y="312.33" width="4.14" height="4.14" fill="#e8060f"/>
<rect x="465.93" y="309.23" width="4.14" height="4.14" fill="#e8060f"/>
<rect x="471.87" y="309.23" width="4.14" height="4.14" fill="#e8060f"/>
<rect x="477.81" y="309.23" width="4.14" height="4.14" fill="#e8060f"/>
<rect x="483.75" y="309.23" width="4.14" height="4.14" fill="#e8060f"/>
<rect x="489.69" y="309.23" width="4.14" height="4.14" fill="#e8060f"/>
<rect x="495.63" y="309.23" width="4.14" height="4.14" fill="#e8060f"/>
<rect x="501.57" y="309.23" width="4.14" height="4.14" fill="#e8060f"/>
<rect x="507.51" y="309.23" width="4.14" height="4.14" fill="#e8060f"/>
<rect x="513.45" y="309.23" width="4.14" height="4.14" fill="#e8060f"/>
<rect x="519.39" y="309.23" width="4.14" height="4.14" fill="#e8060f"/>
<rect x="525.33" y="309.23" width="4.14" height="4.14" fill="#e8060f"/>
<rect x="468.9" y="306.13" width="4.14" height="4.14" fill="#e8060f"/>
<rect x="474.84" y="306.13" width="4.14" height="4.14" fill="#e8060f"/>
<rect x="480.78" y="306.13" width="4.14" height="4.14" fill="#e8060f"/>
<rect x="486.72" y="306.13" width="4.14" height="4.14" fill="#e8060f"/>
<rect x="492.66" y="306.13" width="4.14" height="4.14" fill="#e8060f"/>
<rect x="498.6" y="306.13" width="4.14" height="4.14" fill="#e8060f"/>
<rect x="504.54" y="306.13" width="4.14" height="4.14" fill="#e8060f"/>
<rect x="510.48" y="306.13" width="4.14" height="4.14" fill="#e8060f"/>
<rect x="516.42" y="306.13" width="4.14" height="4.14" fill="#e8060f"/>
<rect x="522.36" y="306.13" width="4.14" height="4.14" fill="#e8060f"/>
<rect x="465.93" y="303.03" width="4.14" height="4.14" fill="#e8060f"/>
<rect x="471.87" y="303.03" width="4.14" height="4.14" fill="#e8060f"/>
<rect x="477.81" y="303.03" width="4.14" height="4.14" fill="#e8060f"/>
<rect x="483.75" y="303.03" width="4.14" height="4.14" fill="#e8060f"/>
<rect x="489.69" y="303.03" width="4.14" height="4.14" fill="#e8060f"/>
<rect x="495.63" y="303.03" width="4.14" height="4.14" fill="#e8060f"/>
<rect x="501.57" y="303.03" width="4.14" height="4.14" fill="#e8060f"/>
<rect x="507.51" y="303.03" width="4.14" height="4.14" fill="#e8060f"/>
<rect x="513.45" y="303.03" width="4.14" height="4.14" fill="#e8060f"/>
<rect x="519.39" y="303.03" width="4.14" height="4.14" fill="#e8060f"/>
<rect x="525.33" y="303.03" width="4.14" height="4.14" fill="#e8060f"/>
<rect x="469.12" y="318.95" width="3.69" height="3.69" fill="#e8060f"/>
<rect x="481" y="318.95" width="3.69" height="3.69" fill="#e8060f"/>
<rect x="486.94" y="318.95" width="3.69" height="3.69" fill="#e8060f"/>
<rect x="492.88" y="318.95" width="3.69" height="3.69" fill="#e8060f"/>
<rect x="498.82" y="318.95" width="3.69" height="3.69" fill="#e8060f"/>
<rect x="504.76" y="318.95" width="3.69" height="3.69" fill="#e8060f"/>
<rect x="510.7" y="318.95" width="3.69" height="3.69" fill="#e8060f"/>
<rect x="478.03" y="322.35" width="3.69" height="3.69" fill="#e8060f"/>
<rect x="483.97" y="322.35" width="3.69" height="3.69" fill="#e8060f"/>
<rect x="489.91" y="322.35" width="3.69" height="3.69" fill="#e8060f"/>
<rect x="495.85" y="322.35" width="3.69" height="3.69" fill="#e8060f"/>
<rect x="501.79" y="322.35" width="3.69" height="3.69" fill="#e8060f"/>
<rect x="507.73" y="322.35" width="3.69" height="3.69" fill="#e8060f"/>
<rect x="513.67" y="322.35" width="3.69" height="3.69" fill="#e8060f"/>
<rect x="466.15" y="315.65" width="3.69" height="3.69" fill="#e8060f"/>
<rect x="525.55" y="315.65" width="3.69" height="3.69" fill="#e8060f"/>
<line x1="464.3" y1="303.7" x2="531.1" y2="303.7" stroke="#111" stroke-width="1.9"/>
<line x1="480.8" y1="286.7" x2="514.6" y2="286.7" stroke="#111" stroke-width="1.9"/>
<line x1="480.8" y1="320.9" x2="514.6" y2="320.9" stroke="#111" stroke-width="1.9"/>
<line x1="497.7" y1="286.7" x2="497.7" y2="320.9" stroke="#111" stroke-width="1.9"/>
<line x1="609.9" y1="16.5" x2="609.9" y2="150.1" stroke="#1a1a1a" stroke-width="1.4"/>
<line x1="606.3" y1="149.4" x2="609.9" y2="149.4" stroke="#1a1a1a" stroke-width="1.4"/>
<text x="604.9" y="152.6" font-size="9.3" text-anchor="end" font-weight="bold" fill="#111">0</text>
<line x1="606.3" y1="127.37" x2="609.9" y2="127.37" stroke="#1a1a1a" stroke-width="1.4"/>
<text x="604.9" y="130.57" font-size="9.3" text-anchor="end" font-weight="bold" fill="#111">20</text>
<line x1="606.3" y1="105.33" x2="609.9" y2="105.33" stroke="#1a1a1a" stroke-width="1.4"/>
<text x="604.9" y="108.53" font-size="9.3" text-anchor="end" font-weight="bold" fill="#111">40</text>
<line x1="606.3" y1="83.3" x2="609.9" y2="83.3" stroke="#1a1a1a" stroke-width="1.4"/>
<text x="604.9" y="86.5" font-size="9.3" text-anchor="end" font-weight="bold" fill="#111">60</text>
<line x1="606.3" y1="61.27" x2="609.9" y2="61.27" stroke="#1a1a1a" stroke-width="1.4"/>
<text x="604.9" y="64.47" font-size="9.3" text-anchor="end" font-weight="bold" fill="#111">80</text>
<line x1="606.3" y1="39.23" x2="609.9" y2="39.23" stroke="#1a1a1a" stroke-width="1.4"/>
<text x="604.9" y="42.43" font-size="9.3" text-anchor="end" font-weight="bold" fill="#111">100</text>
<line x1="606.3" y1="17.2" x2="609.9" y2="17.2" stroke="#1a1a1a" stroke-width="1.4"/>
<text x="604.9" y="20.4" font-size="9.3" text-anchor="end" font-weight="bold" fill="#111">120</text>
<line x1="609.9" y1="149.4" x2="808.58" y2="149.4" stroke="#1a1a1a" stroke-width="1.4"/>
<line x1="609.9" y1="149.4" x2="609.9" y2="153" stroke="#1a1a1a" stroke-width="1.4"/>
<text x="609.9" y="164.3" font-size="9.3" text-anchor="middle" font-weight="bold" fill="#111">0</text>
<line x1="676.12" y1="149.4" x2="676.12" y2="153" stroke="#1a1a1a" stroke-width="1.4"/>
<text x="676.12" y="164.3" font-size="9.3" text-anchor="middle" font-weight="bold" fill="#111">50</text>
<line x1="742.35" y1="149.4" x2="742.35" y2="153" stroke="#1a1a1a" stroke-width="1.4"/>
<text x="742.35" y="164.3" font-size="9.3" text-anchor="middle" font-weight="bold" fill="#111">100</text>
<line x1="808.58" y1="149.4" x2="808.58" y2="153" stroke="#1a1a1a" stroke-width="1.4"/>
<text x="808.58" y="164.3" font-size="9.3" text-anchor="middle" font-weight="bold" fill="#111">150</text>
<text x="709.5" y="179.8" font-size="10.7" text-anchor="middle" font-weight="bold" fill="#111">Months</text>
<text x="582.1" y="80.8" font-size="11" text-anchor="middle" font-weight="bold" fill="#111" transform="rotate(-90 582.1 80.8)">Overall survival (%)</text>
<line x1="716" y1="25.3" x2="730.5" y2="25.3" stroke="#2b2bb5" stroke-width="1.6"/>
<line x1="723.25" y1="23.1" x2="723.25" y2="25.3" stroke="#1a1a1a" stroke-width="1.2"/>
<line x1="716" y1="40.5" x2="730.5" y2="40.5" stroke="#d42a2a" stroke-width="1.6"/>
<line x1="723.25" y1="38.3" x2="723.25" y2="40.5" stroke="#1a1a1a" stroke-width="1.2"/>
<text x="738.8" y="29.8" font-size="10.8" text-anchor="start" font-weight="bold" fill="#111">Low (n=234)</text>
<text x="738.8" y="44.7" font-size="10.8" text-anchor="start" font-weight="bold" fill="#111">High (n=137)</text>
<text x="738.8" y="62.6" font-size="10.7" text-anchor="start" font-weight="bold" fill="#111">P=0.0048</text>
<line x1="613.9" y1="193.6" x2="613.9" y2="327.8" stroke="#1a1a1a" stroke-width="1.4"/>
<line x1="610.3" y1="327.1" x2="613.9" y2="327.1" stroke="#1a1a1a" stroke-width="1.4"/>
<text x="608.9" y="330.3" font-size="9.3" text-anchor="end" font-weight="bold" fill="#111">0</text>
<line x1="610.3" y1="304.97" x2="613.9" y2="304.97" stroke="#1a1a1a" stroke-width="1.4"/>
<text x="608.9" y="308.17" font-size="9.3" text-anchor="end" font-weight="bold" fill="#111">20</text>
<line x1="610.3" y1="282.83" x2="613.9" y2="282.83" stroke="#1a1a1a" stroke-width="1.4"/>
<text x="608.9" y="286.03" font-size="9.3" text-anchor="end" font-weight="bold" fill="#111">40</text>
<line x1="610.3" y1="260.7" x2="613.9" y2="260.7" stroke="#1a1a1a" stroke-width="1.4"/>
<text x="608.9" y="263.9" font-size="9.3" text-anchor="end" font-weight="bold" fill="#111">60</text>
<line x1="610.3" y1="238.57" x2="613.9" y2="238.57" stroke="#1a1a1a" stroke-width="1.4"/>
<text x="608.9" y="241.77" font-size="9.3" text-anchor="end" font-weight="bold" fill="#111">80</text>
<line x1="610.3" y1="216.43" x2="613.9" y2="216.43" stroke="#1a1a1a" stroke-width="1.4"/>
<text x="608.9" y="219.63" font-size="9.3" text-anchor="end" font-weight="bold" fill="#111">100</text>
<line x1="610.3" y1="194.3" x2="613.9" y2="194.3" stroke="#1a1a1a" stroke-width="1.4"/>
<text x="608.9" y="197.5" font-size="9.3" text-anchor="end" font-weight="bold" fill="#111">120</text>
<line x1="613.9" y1="327.1" x2="812.72" y2="327.1" stroke="#1a1a1a" stroke-width="1.4"/>
<line x1="613.9" y1="327.1" x2="613.9" y2="330.7" stroke="#1a1a1a" stroke-width="1.4"/>
<text x="613.9" y="341.4" font-size="9.3" text-anchor="middle" font-weight="bold" fill="#111">0</text>
<line x1="680.17" y1="327.1" x2="680.17" y2="330.7" stroke="#1a1a1a" stroke-width="1.4"/>
<text x="680.17" y="341.4" font-size="9.3" text-anchor="middle" font-weight="bold" fill="#111">50</text>
<line x1="746.45" y1="327.1" x2="746.45" y2="330.7" stroke="#1a1a1a" stroke-width="1.4"/>
<text x="746.45" y="341.4" font-size="9.3" text-anchor="middle" font-weight="bold" fill="#111">100</text>
<line x1="812.72" y1="327.1" x2="812.72" y2="330.7" stroke="#1a1a1a" stroke-width="1.4"/>
<text x="812.72" y="341.4" font-size="9.3" text-anchor="middle" font-weight="bold" fill="#111">150</text>
<text x="713.5" y="355.8" font-size="10.7" text-anchor="middle" font-weight="bold" fill="#111">Months</text>
<text x="586.7" y="260.9" font-size="11" text-anchor="middle" font-weight="bold" fill="#111" transform="rotate(-90 586.7 260.9)">Disease free survival (%)</text>
<line x1="709.9" y1="197.8" x2="724" y2="197.8" stroke="#2b2bb5" stroke-width="1.6"/>
<line x1="716.95" y1="195.6" x2="716.95" y2="197.8" stroke="#1a1a1a" stroke-width="1.2"/>
<line x1="709.9" y1="212.6" x2="724" y2="212.6" stroke="#d42a2a" stroke-width="1.6"/>
<line x1="716.95" y1="210.4" x2="716.95" y2="212.6" stroke="#1a1a1a" stroke-width="1.2"/>
<text x="733" y="201.9" font-size="10.8" text-anchor="start" font-weight="bold" fill="#111">Low (n=234)</text>
<text x="733" y="216.8" font-size="10.8" text-anchor="start" font-weight="bold" fill="#111">High (n=137)</text>
<text x="733" y="234.7" font-size="10.7" text-anchor="start" font-weight="bold" fill="#111">P=0.0065</text>
<g class="lt">
<line x1="67" y1="379.8" x2="67" y2="515" stroke="#505050" stroke-width="1.4"/>
<line x1="63.4" y1="514.3" x2="67" y2="514.3" stroke="#505050" stroke-width="1.4"/>
<text x="62" y="517.5" font-size="9.3" text-anchor="end" font-weight="bold" fill="#111">0</text>
<line x1="63.4" y1="487.54" x2="67" y2="487.54" stroke="#505050" stroke-width="1.4"/>
<text x="62" y="490.74" font-size="9.3" text-anchor="end" font-weight="bold" fill="#111">20</text>
<line x1="63.4" y1="460.78" x2="67" y2="460.78" stroke="#505050" stroke-width="1.4"/>
<text x="62" y="463.98" font-size="9.3" text-anchor="end" font-weight="bold" fill="#111">40</text>
<line x1="63.4" y1="434.02" x2="67" y2="434.02" stroke="#505050" stroke-width="1.4"/>
<text x="62" y="437.22" font-size="9.3" text-anchor="end" font-weight="bold" fill="#111">60</text>
<line x1="63.4" y1="407.26" x2="67" y2="407.26" stroke="#505050" stroke-width="1.4"/>
<text x="62" y="410.46" font-size="9.3" text-anchor="end" font-weight="bold" fill="#111">80</text>
<line x1="63.4" y1="380.5" x2="67" y2="380.5" stroke="#505050" stroke-width="1.4"/>
<text x="62" y="383.7" font-size="9.3" text-anchor="end" font-weight="bold" fill="#111">100</text>
<line x1="67" y1="514.3" x2="267.06" y2="514.3" stroke="#505050" stroke-width="1.4"/>
<line x1="67" y1="514.3" x2="67" y2="517.9" stroke="#505050" stroke-width="1.4"/>
<text x="67" y="528.5" font-size="9.3" text-anchor="middle" font-weight="bold" fill="#111">0</text>
<line x1="133.69" y1="514.3" x2="133.69" y2="517.9" stroke="#505050" stroke-width="1.4"/>
<text x="133.69" y="528.5" font-size="9.3" text-anchor="middle" font-weight="bold" fill="#111">50</text>
<line x1="200.37" y1="514.3" x2="200.37" y2="517.9" stroke="#505050" stroke-width="1.4"/>
<text x="200.37" y="528.5" font-size="9.3" text-anchor="middle" font-weight="bold" fill="#111">100</text>
<line x1="267.06" y1="514.3" x2="267.06" y2="517.9" stroke="#505050" stroke-width="1.4"/>
<text x="267.06" y="528.5" font-size="9.3" text-anchor="middle" font-weight="bold" fill="#111">150</text>
<text x="167" y="543.2" font-size="10.7" text-anchor="middle" font-weight="bold" fill="#111">Months</text>
<text x="40.1" y="446.8" font-size="11" text-anchor="middle" font-weight="bold" fill="#111" transform="rotate(-90 40.1 446.8)">Recurrence (%)</text>
<line x1="168.1" y1="437" x2="182.8" y2="437" stroke="#34349a" stroke-width="1.6"/>
<line x1="175.45" y1="434.8" x2="175.45" y2="437" stroke="#505050" stroke-width="1.2"/>
<line x1="168.1" y1="452.3" x2="182.8" y2="452.3" stroke="#c43434" stroke-width="1.6"/>
<line x1="175.45" y1="450.1" x2="175.45" y2="452.3" stroke="#505050" stroke-width="1.2"/>
<text x="191.3" y="441.1" font-size="10.8" text-anchor="start" font-weight="bold" fill="#111">Low (n=234)</text>
<text x="191.3" y="456.1" font-size="10.8" text-anchor="start" font-weight="bold" fill="#111">High (n=137)</text>
<text x="191.3" y="473.3" font-size="10.7" text-anchor="start" font-weight="bold" fill="#111">P=0.0105</text>
</g>
<polyline points="610.1,38.8 611.42,38.8 611.42,40.1 612.74,40.1 612.74,41.4 614.06,41.4 614.06,42.7 615.38,42.7 615.38,44 616.7,44 616.7,45.3 618.53,45.3 618.53,46.4 620.35,46.4 620.35,47.5 622.17,47.5 622.17,48.6 624,48.6 624,49.7 625.46,49.7 625.46,50.88 626.92,50.88 626.92,52.06 628.38,52.06 628.38,53.24 629.84,53.24 629.84,54.42 631.3,54.42 631.3,55.6 632.77,55.6 632.77,56.57 634.23,56.57 634.23,57.53 635.7,57.53 635.7,58.5 636.78,58.5 636.78,59.95 637.85,59.95 637.85,61.4 638.92,61.4 638.92,62.85 640,62.85 640,64.3 641.5,64.3 641.5,65.77 643,65.77 643,67.23 644.5,67.23 644.5,68.7 645.7,68.7 645.7,70.17 646.9,70.17 646.9,71.63 648.1,71.63 648.1,73.1 650.12,73.1 650.12,73.28 652.15,73.28 652.15,73.45 654.18,73.45 654.18,73.62 656.2,73.62 656.2,73.8 658.03,73.8 658.03,74.55 659.85,74.55 659.85,75.3 661.67,75.3 661.67,76.05 663.5,76.05 663.5,76.8 665.43,76.8 665.43,77.5 667.37,77.5 667.37,78.2 669.3,78.2 669.3,78.9 671.27,78.9 671.27,80.13 673.23,80.13 673.23,81.37 675.2,81.37 675.2,82.6 677.13,82.6 677.13,83.83 679.07,83.83 679.07,85.07 681,85.07 681,86.3 682.23,86.3 682.23,88 683.47,88 683.47,89.7 684.7,89.7 684.7,91.4 686.4,91.4 686.4,92.3 688.1,92.3 688.1,93.2 689.8,93.2 689.8,94.1" fill="none" stroke="#2b2bb5" stroke-width="1.7" stroke-linejoin="miter"/>
<polyline points="610.1,38.8 611.42,38.8 611.42,40.1 612.74,40.1 612.74,41.4 614.06,41.4 614.06,42.7 615.38,42.7 615.38,44 616.7,44 616.7,45.3 618.53,45.3 618.53,46.4 620.35,46.4 620.35,47.5 622.17,47.5 622.17,48.6 624,48.6 624,49.7 625.46,49.7 625.46,50.88 626.92,50.88 626.92,52.06 628.38,52.06 628.38,53.24 629.84,53.24 629.84,54.42 631.3,54.42 631.3,55.6 632.77,55.6 632.77,56.57 634.23,56.57 634.23,57.53 635.7,57.53 635.7,58.5 636.78,58.5 636.78,59.95 637.85,59.95 637.85,61.4 638.92,61.4 638.92,62.85 640,62.85 640,64.3 641.5,64.3 641.5,65.77 643,65.77 643,67.23 644.5,67.23 644.5,68.7 645.7,68.7 645.7,70.17 646.9,70.17 646.9,71.63" fill="none" stroke="#141414" stroke-width="2.5" stroke-linejoin="round"/>
<path d="M610.76 40v-3 M612.08 41.3v-3 M613.4 42.6v-3 M614.72 43.9v-3 M616.04 45.2v-3 M617.61 46.5v-3 M619.44 47.6v-3 M621.26 48.7v-3 M623.09 49.8v-3 M624.73 50.9v-3 M626.19 52.08v-3 M627.65 53.26v-3 M629.11 54.44v-3 M630.57 55.62v-3 M632.03 56.8v-3 M633.5 57.77v-3 M634.97 58.73v-3 M636.24 59.7v-3 M637.31 61.15v-3 M638.39 62.6v-3 M639.46 64.05v-3 M640.75 65.5v-3 M642.25 66.97v-3 M643.75 68.43v-3 M645.1 69.9v-3 M646.3 71.37v-3 M647.5 72.83v-3 M649.11 74.3v-3 M651.14 74.48v-3 M653.16 74.65v-3 M655.19 74.83v-3 M657.11 75v-3 M658.94 75.75v-3 M660.76 76.5v-3 M662.59 77.25v-3 M664.47 78v-3 M666.4 78.7v-3 M668.33 79.4v-3 M670.28 80.1v-3 M672.25 81.33v-3 M674.22 82.57v-3 M676.17 83.8v-3 M678.1 85.03v-3 M680.03 86.27v-3 M681.62 87.5v-3 M682.85 89.2v-3 M684.08 90.9v-3 M685.55 92.6v-3 M687.25 93.5v-3 M688.95 94.4v-3" stroke="#141414" stroke-width="1.5" fill="none"/>
<polyline points="689.8,94.1 703.2,94.1 703.2,100.5 719.4,100.5 719.4,103.1 721.4,103.1 721.4,105.7 722,105.7 722,110.1 748.3,110.1 748.3,117.2 754,117.2 754,123.6 772.6,123.6 772.6,123.6" fill="none" stroke="#2b2bb5" stroke-width="1.5"/>
<line x1="692" y1="91.3" x2="692" y2="94.5" stroke="#111" stroke-width="1.4"/>
<line x1="694.5" y1="91.3" x2="694.5" y2="94.5" stroke="#111" stroke-width="1.4"/>
<line x1="697" y1="91.3" x2="697" y2="94.5" stroke="#111" stroke-width="1.4"/>
<line x1="699" y1="91.3" x2="699" y2="94.5" stroke="#111" stroke-width="1.4"/>
<line x1="701.5" y1="91.3" x2="701.5" y2="94.5" stroke="#111" stroke-width="1.4"/>
<line x1="705" y1="97.7" x2="705" y2="100.9" stroke="#111" stroke-width="1.4"/>
<line x1="707" y1="97.7" x2="707" y2="100.9" stroke="#111" stroke-width="1.4"/>
<line x1="709.5" y1="97.7" x2="709.5" y2="100.9" stroke="#111" stroke-width="1.4"/>
<line x1="712" y1="97.7" x2="712" y2="100.9" stroke="#111" stroke-width="1.4"/>
<line x1="714.5" y1="97.7" x2="714.5" y2="100.9" stroke="#111" stroke-width="1.4"/>
<line x1="716.5" y1="97.7" x2="716.5" y2="100.9" stroke="#111" stroke-width="1.4"/>
<line x1="731" y1="107.3" x2="731" y2="110.5" stroke="#111" stroke-width="1.4"/>
<line x1="755.5" y1="120.8" x2="755.5" y2="124" stroke="#111" stroke-width="1.4"/>
<line x1="763" y1="120.8" x2="763" y2="124" stroke="#111" stroke-width="1.4"/>
<line x1="772.6" y1="120.8" x2="772.6" y2="124" stroke="#111" stroke-width="1.4"/>
<polyline points="610.1,38.8 610.72,38.8 610.72,40.62 611.33,40.62 611.33,42.43 611.95,42.43 611.95,44.25 612.57,44.25 612.57,46.07 613.18,46.07 613.18,47.88 613.8,47.88 613.8,49.7 614.96,49.7 614.96,51.16 616.12,51.16 616.12,52.62 617.28,52.62 617.28,54.08 618.44,54.08 618.44,55.54 619.6,55.54 619.6,57 621.05,57 621.05,57.75 622.5,57.75 622.5,58.5 623,58.5 623,60.7 623.5,60.7 623.5,62.9 624,62.9 624,65.1 624.97,65.1 624.97,66.8 625.93,66.8 625.93,68.5 626.9,68.5 626.9,70.2 628.4,70.2 628.4,72 629.9,72 629.9,73.8 631.83,73.8 631.83,74.53 633.77,74.53 633.77,75.27 635.7,75.27 635.7,76 637.13,76 637.13,76.97 638.57,76.97 638.57,77.93 640,77.93 640,78.9 641.23,78.9 641.23,80.87 642.47,80.87 642.47,82.83 643.7,82.83 643.7,84.8 645.55,84.8 645.55,85.9 647.4,85.9 647.4,87 649.33,87 649.33,87.47 651.27,87.47 651.27,87.93 653.2,87.93 653.2,88.4 654.93,88.4 654.93,89.17 656.67,89.17 656.67,89.93 658.4,89.93 658.4,90.7 659.5,90.7 659.5,92.85 660.6,92.85 660.6,95" fill="none" stroke="#d42a2a" stroke-width="1.7" stroke-linejoin="miter"/>
<polyline points="610.1,38.8 610.72,38.8 610.72,40.62 611.33,40.62 611.33,42.43 611.95,42.43 611.95,44.25 612.57,44.25 612.57,46.07 613.18,46.07 613.18,47.88 613.8,47.88 613.8,49.7 614.96,49.7 614.96,51.16 616.12,51.16 616.12,52.62 617.28,52.62 617.28,54.08 618.44,54.08 618.44,55.54 619.6,55.54 619.6,57 621.05,57 621.05,57.75 622.5,57.75 622.5,58.5 623,58.5 623,60.7 623.5,60.7 623.5,62.9 624,62.9 624,65.1 624.97,65.1 624.97,66.8 625.93,66.8 625.93,68.5 626.9,68.5 626.9,70.2" fill="none" stroke="#141414" stroke-width="2.2" stroke-linejoin="round"/>
<path d="M610.41 39.8v-3 M611.03 41.62v-3 M611.64 43.43v-3 M612.26 45.25v-3 M612.88 47.07v-3 M613.49 48.88v-3 M614.38 50.7v-3 M615.54 52.16v-3 M616.7 53.62v-3 M617.86 55.08v-3 M619.02 56.54v-3 M620.33 58v-3 M621.77 58.75v-3 M624.48 66.1v-3 M625.45 67.8v-3 M626.42 69.5v-3 M627.65 71.2v-3 M629.15 73v-3 M630.87 74.8v-3 M632.8 75.53v-3 M634.73 76.27v-3 M636.42 77v-3 M637.85 77.97v-3 M639.28 78.93v-3 M640.62 79.9v-3 M641.85 81.87v-3 M643.08 83.83v-3 M644.62 85.8v-3 M646.47 86.9v-3 M648.37 88v-3 M650.3 88.47v-3 M652.23 88.93v-3 M654.07 89.4v-3 M655.8 90.17v-3 M657.53 90.93v-3 M658.95 91.7v-3 M660.05 93.85v-3" stroke="#141414" stroke-width="1.5" fill="none"/>
<polyline points="660.6,95 671.2,95 671.2,98 691,98 691,103.1 718.2,103.1 718.2,118.5 721,118.5 721,134.5 731.6,134.5 731.6,134.5" fill="none" stroke="#d42a2a" stroke-width="1.5"/>
<line x1="662.5" y1="92.2" x2="662.5" y2="95.4" stroke="#111" stroke-width="1.4"/>
<line x1="665" y1="92.2" x2="665" y2="95.4" stroke="#111" stroke-width="1.4"/>
<line x1="668" y1="92.2" x2="668" y2="95.4" stroke="#111" stroke-width="1.4"/>
<line x1="670" y1="92.2" x2="670" y2="95.4" stroke="#111" stroke-width="1.4"/>
<line x1="675" y1="95.2" x2="675" y2="98.4" stroke="#111" stroke-width="1.4"/>
<line x1="679.5" y1="95.2" x2="679.5" y2="98.4" stroke="#111" stroke-width="1.4"/>
<line x1="683.5" y1="95.2" x2="683.5" y2="98.4" stroke="#111" stroke-width="1.4"/>
<line x1="687" y1="95.2" x2="687" y2="98.4" stroke="#111" stroke-width="1.4"/>
<line x1="696.4" y1="100.3" x2="696.4" y2="103.5" stroke="#111" stroke-width="1.4"/>
<line x1="731.6" y1="131.7" x2="731.6" y2="134.9" stroke="#111" stroke-width="1.4"/>
<polyline points="614.1,214 614.76,214 614.76,215.96 615.42,215.96 615.42,217.92 616.08,217.92 616.08,219.88 616.74,219.88 616.74,221.84 617.4,221.84 617.4,223.8 618.02,223.8 618.02,225.45 618.65,225.45 618.65,227.1 619.27,227.1 619.27,228.75 619.9,228.75 619.9,230.4 621.1,230.4 621.1,232.05 622.3,232.05 622.3,233.7 624.35,233.7 624.35,234.9 626.4,234.9 626.4,236.1 628.07,236.1 628.07,236.93 629.73,236.93 629.73,237.77 631.4,237.77 631.4,238.6 632.77,238.6 632.77,239.7 634.13,239.7 634.13,240.8 635.5,240.8 635.5,241.9 637.13,241.9 637.13,243.53 638.77,243.53 638.77,245.17 640.4,245.17 640.4,246.8 641.5,246.8 641.5,248.47 642.6,248.47 642.6,250.13 643.7,250.13 643.7,251.8 645.63,251.8 645.63,252.87 647.57,252.87 647.57,253.93 649.5,253.93 649.5,255 650.6,255 650.6,256.67 651.7,256.67 651.7,258.33 652.8,258.33 652.8,260 654.7,260 654.7,260.53 656.6,260.53 656.6,261.07 658.5,261.07 658.5,261.6 659.87,261.6 659.87,262.7 661.23,262.7 661.23,263.8 662.6,263.8 662.6,264.9 664.25,264.9 664.25,266.65 665.9,266.65 665.9,268.4" fill="none" stroke="#2b2bb5" stroke-width="1.7" stroke-linejoin="miter"/>
<polyline points="614.1,214 614.76,214 614.76,215.96 615.42,215.96 615.42,217.92 616.08,217.92 616.08,219.88 616.74,219.88 616.74,221.84 617.4,221.84 617.4,223.8 618.02,223.8 618.02,225.45 618.65,225.45 618.65,227.1 619.27,227.1 619.27,228.75 619.9,228.75 619.9,230.4 621.1,230.4 621.1,232.05 622.3,232.05 622.3,233.7 624.35,233.7 624.35,234.9 626.4,234.9 626.4,236.1 628.07,236.1 628.07,236.93 629.73,236.93 629.73,237.77 631.4,237.77 631.4,238.6 632.77,238.6 632.77,239.7 634.13,239.7 634.13,240.8 635.5,240.8 635.5,241.9 637.13,241.9 637.13,243.53 638.77,243.53 638.77,245.17 640.4,245.17 640.4,246.8 641.5,246.8 641.5,248.47 642.6,248.47 642.6,250.13 643.7,250.13 643.7,251.8 645.63,251.8 645.63,252.87 647.57,252.87 647.57,253.93 649.5,253.93 649.5,255 650.6,255 650.6,256.67 651.7,256.67 651.7,258.33" fill="none" stroke="#141414" stroke-width="2.6" stroke-linejoin="round"/>
<path d="M614.43 215.2v-3 M615.09 217.16v-3 M615.75 219.12v-3 M616.41 221.08v-3 M617.07 223.04v-3 M617.71 225v-3 M618.34 226.65v-3 M618.96 228.3v-3 M619.59 229.95v-3 M620.5 231.6v-3 M621.7 233.25v-3 M623.32 234.9v-3 M625.38 236.1v-3 M627.23 237.3v-3 M628.9 238.13v-3 M630.57 238.97v-3 M632.08 239.8v-3 M633.45 240.9v-3 M634.82 242v-3 M636.32 243.1v-3 M637.95 244.73v-3 M639.58 246.37v-3 M640.95 248v-3 M642.05 249.67v-3 M643.15 251.33v-3 M644.67 253v-3 M646.6 254.07v-3 M648.53 255.13v-3 M650.05 256.2v-3 M651.15 257.87v-3 M652.25 259.53v-3 M653.75 261.2v-3 M655.65 261.73v-3 M657.55 262.27v-3 M659.18 262.8v-3 M660.55 263.9v-3 M661.92 265v-3 M663.42 266.1v-3 M665.08 267.85v-3" stroke="#141414" stroke-width="1.5" fill="none"/>
<polyline points="665.9,268.4 704.4,268.4 704.4,275.2 708.2,275.2 708.2,282.2 757.9,282.2 757.9,297.4 777.1,297.4 777.1,297.4" fill="none" stroke="#2b2bb5" stroke-width="1.5"/>
<line x1="655" y1="258.8" x2="655" y2="262" stroke="#111" stroke-width="1.4"/>
<line x1="658" y1="258.8" x2="658" y2="262" stroke="#111" stroke-width="1.4"/>
<line x1="669" y1="265.6" x2="669" y2="268.8" stroke="#111" stroke-width="1.4"/>
<line x1="676" y1="265.6" x2="676" y2="268.8" stroke="#111" stroke-width="1.4"/>
<line x1="680" y1="265.6" x2="680" y2="268.8" stroke="#111" stroke-width="1.4"/>
<line x1="683" y1="265.6" x2="683" y2="268.8" stroke="#111" stroke-width="1.4"/>
<line x1="686" y1="265.6" x2="686" y2="268.8" stroke="#111" stroke-width="1.4"/>
<line x1="689" y1="265.6" x2="689" y2="268.8" stroke="#111" stroke-width="1.4"/>
<line x1="692" y1="265.6" x2="692" y2="268.8" stroke="#111" stroke-width="1.4"/>
<line x1="695" y1="265.6" x2="695" y2="268.8" stroke="#111" stroke-width="1.4"/>
<line x1="699" y1="265.6" x2="699" y2="268.8" stroke="#111" stroke-width="1.4"/>
<line x1="702" y1="265.6" x2="702" y2="268.8" stroke="#111" stroke-width="1.4"/>
<line x1="716" y1="279.4" x2="716" y2="282.6" stroke="#111" stroke-width="1.4"/>
<line x1="723.5" y1="279.4" x2="723.5" y2="282.6" stroke="#111" stroke-width="1.4"/>
<line x1="726" y1="279.4" x2="726" y2="282.6" stroke="#111" stroke-width="1.4"/>
<line x1="767" y1="294.6" x2="767" y2="297.8" stroke="#111" stroke-width="1.4"/>
<line x1="777.1" y1="294.6" x2="777.1" y2="297.8" stroke="#111" stroke-width="1.4"/>
<polyline points="614.1,214 614.58,214 614.58,215.92 615.07,215.92 615.07,217.83 615.55,217.83 615.55,219.75 616.03,219.75 616.03,221.67 616.52,221.67 616.52,223.58 617,223.58 617,225.5 617.48,225.5 617.48,227.42 617.97,227.42 617.97,229.33 618.45,229.33 618.45,231.25 618.93,231.25 618.93,233.17 619.42,233.17 619.42,235.08 619.9,235.08 619.9,237 620.72,237 620.72,238.92 621.53,238.92 621.53,240.83 622.35,240.83 622.35,242.75 623.17,242.75 623.17,244.67 623.98,244.67 623.98,246.58 624.8,246.58 624.8,248.5 625.78,248.5 625.78,250.46 626.76,250.46 626.76,252.42 627.74,252.42 627.74,254.38 628.72,254.38 628.72,256.34 629.7,256.34 629.7,258.3 630.25,258.3 630.25,260.08 630.8,260.08 630.8,261.87 631.35,261.87 631.35,263.65 631.9,263.65 631.9,265.43 632.45,265.43 632.45,267.22 633,267.22 633,269" fill="none" stroke="#d42a2a" stroke-width="1.7" stroke-linejoin="miter"/>
<polyline points="614.1,214 614.58,214 614.58,215.92 615.07,215.92 615.07,217.83 615.55,217.83 615.55,219.75 616.03,219.75 616.03,221.67 616.52,221.67 616.52,223.58 617,223.58 617,225.5 617.48,225.5 617.48,227.42 617.97,227.42 617.97,229.33 618.45,229.33 618.45,231.25 618.93,231.25 618.93,233.17 619.42,233.17 619.42,235.08 619.9,235.08 619.9,237 620.72,237 620.72,238.92 621.53,238.92 621.53,240.83 622.35,240.83 622.35,242.75 623.17,242.75 623.17,244.67 623.98,244.67 623.98,246.58 624.8,246.58 624.8,248.5 625.78,248.5 625.78,250.46 626.76,250.46 626.76,252.42 627.74,252.42 627.74,254.38 628.72,254.38 628.72,256.34 629.7,256.34 629.7,258.3 630.25,258.3 630.25,260.08 630.8,260.08 630.8,261.87 631.35,261.87 631.35,263.65 631.9,263.65 631.9,265.43 632.45,265.43 632.45,267.22 633,267.22 633,269" fill="none" stroke="#141414" stroke-width="2.3" stroke-linejoin="round"/>
<path d="M620.31 238v-3 M621.12 239.92v-3 M621.94 241.83v-3 M622.76 243.75v-3 M623.58 245.67v-3 M624.39 247.58v-3 M625.29 249.5v-3 M626.27 251.46v-3 M627.25 253.42v-3 M628.23 255.38v-3 M629.21 257.34v-3" stroke="#141414" stroke-width="1.5" fill="none"/>
<polyline points="633,269 653.2,269 653.2,272.3 664.7,272.3 664.7,275.6 677.6,275.6 677.6,285 710.2,285 710.2,299.1 720.1,299.1 720.1,299.1" fill="none" stroke="#d42a2a" stroke-width="1.5"/>
<line x1="636" y1="266.2" x2="636" y2="269.4" stroke="#111" stroke-width="1.4"/>
<line x1="638.5" y1="266.2" x2="638.5" y2="269.4" stroke="#111" stroke-width="1.4"/>
<line x1="641" y1="266.2" x2="641" y2="269.4" stroke="#111" stroke-width="1.4"/>
<line x1="643.5" y1="266.2" x2="643.5" y2="269.4" stroke="#111" stroke-width="1.4"/>
<line x1="646" y1="266.2" x2="646" y2="269.4" stroke="#111" stroke-width="1.4"/>
<line x1="649" y1="266.2" x2="649" y2="269.4" stroke="#111" stroke-width="1.4"/>
<line x1="655" y1="269.5" x2="655" y2="272.7" stroke="#111" stroke-width="1.4"/>
<line x1="658" y1="269.5" x2="658" y2="272.7" stroke="#111" stroke-width="1.4"/>
<line x1="667" y1="272.8" x2="667" y2="276" stroke="#111" stroke-width="1.4"/>
<line x1="671" y1="272.8" x2="671" y2="276" stroke="#111" stroke-width="1.4"/>
<line x1="686" y1="282.2" x2="686" y2="285.4" stroke="#111" stroke-width="1.4"/>
<line x1="690" y1="282.2" x2="690" y2="285.4" stroke="#111" stroke-width="1.4"/>
<line x1="695" y1="282.2" x2="695" y2="285.4" stroke="#111" stroke-width="1.4"/>
<line x1="700" y1="282.2" x2="700" y2="285.4" stroke="#111" stroke-width="1.4"/>
<line x1="716" y1="296.3" x2="716" y2="299.5" stroke="#111" stroke-width="1.4"/>
<line x1="720.1" y1="296.3" x2="720.1" y2="299.5" stroke="#111" stroke-width="1.4"/>
<polyline points="85.5,439.7 90,439.7 90,437.2 95.5,437.2 95.5,431.9 100.2,431.9 100.2,429.1 104.5,429.1 104.5,426.4 106.2,426.4 106.2,423.7 107.4,423.7 107.4,420.4" fill="none" stroke="#2a1414" stroke-width="1.6"/>
<line x1="87.8" y1="436.7" x2="87.8" y2="440.1" stroke="#111" stroke-width="1.3"/>
<line x1="92.6" y1="434.2" x2="92.6" y2="437.6" stroke="#111" stroke-width="1.3"/>
<line x1="97.8" y1="428.9" x2="97.8" y2="432.3" stroke="#111" stroke-width="1.3"/>
<line x1="102.3" y1="426.1" x2="102.3" y2="429.5" stroke="#111" stroke-width="1.3"/>
<line x1="105.3" y1="423.4" x2="105.3" y2="426.8" stroke="#111" stroke-width="1.3"/>
<polyline points="67.5,513.5 68.13,513.5 68.13,511.7 68.76,511.7 68.76,509.9 69.39,509.9 69.39,508.1 70.01,508.1 70.01,506.3 70.64,506.3 70.64,504.5 71.27,504.5 71.27,502.7 71.9,502.7 71.9,500.9 72.45,500.9 72.45,499.07 73,499.07 73,497.23 73.55,497.23 73.55,495.4 74.1,495.4 74.1,493.57 74.65,493.57 74.65,491.73 75.2,491.73 75.2,489.9 75.63,489.9 75.63,487.93 76.06,487.93 76.06,485.96 76.49,485.96 76.49,483.99 76.92,483.99 76.92,482.02 77.35,482.02 77.35,480.05 77.78,480.05 77.78,478.08 78.21,478.08 78.21,476.11 78.64,476.11 78.64,474.14 79.07,474.14 79.07,472.17 79.5,472.17 79.5,470.2 79.77,470.2 79.77,468.3 80.03,468.3 80.03,466.4 80.3,466.4 80.3,464.5 80.57,464.5 80.57,462.6 80.83,462.6 80.83,460.7 81.1,460.7 81.1,458.8 81.37,458.8 81.37,456.9 81.63,456.9 81.63,455 81.9,455 81.9,453.1 82.17,453.1 82.17,451.2 82.43,451.2 82.43,449.3 82.7,449.3 82.7,447.4 83.4,447.4 83.4,445.47 84.1,445.47 84.1,443.55 84.8,443.55 84.8,441.62 85.5,441.62 85.5,439.7" fill="none" stroke="#141414" stroke-width="1.7" stroke-linejoin="miter"/>
<path d="M67.81 514v-3 M68.44 512.2v-3 M69.07 510.4v-3 M69.7 508.6v-3 M70.33 506.8v-3 M70.96 505v-3 M71.59 503.2v-3 M83.05 447.9v-3 M83.75 445.97v-3 M84.45 444.05v-3 M85.15 442.12v-3" stroke="#141414" stroke-width="1.2" fill="none"/>
<polyline points="107.4,420.4 131.4,420.4 131.4,415.5 161.8,415.5 161.8,406.1 163.8,406.1 163.8,398.1 173.8,398.1 173.8,398.1" fill="none" stroke="#d42a2a" stroke-width="1.5"/>
<line x1="110" y1="417.6" x2="110" y2="420.8" stroke="#111" stroke-width="1.4"/>
<line x1="113" y1="417.6" x2="113" y2="420.8" stroke="#111" stroke-width="1.4"/>
<line x1="116" y1="417.6" x2="116" y2="420.8" stroke="#111" stroke-width="1.4"/>
<line x1="118.5" y1="417.6" x2="118.5" y2="420.8" stroke="#111" stroke-width="1.4"/>
<line x1="122" y1="417.6" x2="122" y2="420.8" stroke="#111" stroke-width="1.4"/>
<line x1="126" y1="417.6" x2="126" y2="420.8" stroke="#111" stroke-width="1.4"/>
<line x1="129" y1="417.6" x2="129" y2="420.8" stroke="#111" stroke-width="1.4"/>
<line x1="136" y1="412.7" x2="136" y2="415.9" stroke="#111" stroke-width="1.4"/>
<line x1="142" y1="412.7" x2="142" y2="415.9" stroke="#111" stroke-width="1.4"/>
<line x1="147" y1="412.7" x2="147" y2="415.9" stroke="#111" stroke-width="1.4"/>
<line x1="152" y1="412.7" x2="152" y2="415.9" stroke="#111" stroke-width="1.4"/>
<line x1="156" y1="412.7" x2="156" y2="415.9" stroke="#111" stroke-width="1.4"/>
<line x1="167" y1="395.3" x2="167" y2="398.5" stroke="#111" stroke-width="1.4"/>
<line x1="173.8" y1="395.3" x2="173.8" y2="398.5" stroke="#111" stroke-width="1.4"/>
<polyline points="67.5,513.5 68.29,513.5 68.29,510.44 69.07,510.44 69.07,507.39 69.86,507.39 69.86,504.33 70.64,504.33 70.64,501.27 71.43,501.27 71.43,498.21 72.21,498.21 72.21,495.16 73,495.16 73,492.1 74.08,492.1 74.08,489.26 75.16,489.26 75.16,486.42 76.24,486.42 76.24,483.58 77.32,483.58 77.32,480.74 78.4,480.74 78.4,477.9 80.2,477.9 80.2,475.2 82,475.2 82,472.5 84.6,472.5 84.6,469.4 86.1,469.4 86.1,466.33 87.6,466.33 87.6,463.27 89.1,463.27 89.1,460.2 91.4,460.2 91.4,457 93.7,457 93.7,453.8 96,453.8 96,452 98.3,452 98.3,450.2 101.05,450.2 101.05,448.8 103.8,448.8 103.8,447.4 105.6,447.4 105.6,445.35 107.4,445.35 107.4,443.3 109.7,443.3 109.7,441.95 112,441.95 112,440.6 114.3,440.6 114.3,438.75 116.6,438.75 116.6,436.9 118.85,436.9 118.85,435.75 121.1,435.75 121.1,434.6 122.95,434.6 122.95,432.35 124.8,432.35 124.8,430.1 129.4,430.1 129.4,430.1 131.2,430.1 131.2,427.8 134.8,427.8 134.8,426.9 137.1,426.9 137.1,425.5 139.4,425.5 139.4,424.1 142.2,424.1 142.2,420.9 143.3,420.9 143.3,418.5" fill="none" stroke="#1c1c3a" stroke-width="1.7" stroke-linejoin="miter"/>
<path d="M67.89 514v-3 M68.68 510.94v-3 M69.46 507.89v-3 M70.25 504.83v-3 M71.04 501.77v-3 M71.82 498.71v-3 M72.61 495.66v-3 M73.54 492.6v-3 M74.62 489.76v-3 M75.7 486.92v-3 M76.78 484.08v-3 M77.86 481.24v-3 M79.3 478.4v-3 M81.1 475.7v-3 M83.3 473v-3 M85.35 469.9v-3 M86.85 466.83v-3 M88.35 463.77v-3 M90.25 460.7v-3 M92.55 457.5v-3 M94.85 454.3v-3 M97.15 452.5v-3 M99.67 450.7v-3 M102.42 449.3v-3 M104.7 447.9v-3 M106.5 445.85v-3 M108.55 443.8v-3 M110.85 442.45v-3 M113.15 441.1v-3 M115.45 439.25v-3 M117.72 437.4v-3 M119.97 436.25v-3 M122.02 435.1v-3 M123.88 432.85v-3 M127.1 430.6v-3 M130.3 430.6v-3 M133 428.3v-3 M135.95 427.4v-3 M138.25 426v-3 M140.8 424.6v-3 M142.75 421.4v-3" stroke="#141414" stroke-width="1.2" fill="none"/>
<polyline points="143.3,418.5 159.3,418.5 159.3,415.5 230.5,415.5 230.5,415.5" fill="none" stroke="#34349a" stroke-width="1.5"/>
<line x1="145" y1="415.7" x2="145" y2="418.9" stroke="#111" stroke-width="1.4"/>
<line x1="147.5" y1="415.7" x2="147.5" y2="418.9" stroke="#111" stroke-width="1.4"/>
<line x1="150" y1="415.7" x2="150" y2="418.9" stroke="#111" stroke-width="1.4"/>
<line x1="152.5" y1="415.7" x2="152.5" y2="418.9" stroke="#111" stroke-width="1.4"/>
<line x1="155" y1="415.7" x2="155" y2="418.9" stroke="#111" stroke-width="1.4"/>
<line x1="169.5" y1="412.7" x2="169.5" y2="415.9" stroke="#111" stroke-width="1.4"/>
<line x1="176" y1="412.7" x2="176" y2="415.9" stroke="#111" stroke-width="1.4"/>
<line x1="178.2" y1="412.7" x2="178.2" y2="415.9" stroke="#111" stroke-width="1.4"/>
<line x1="211.6" y1="412.7" x2="211.6" y2="415.9" stroke="#111" stroke-width="1.4"/>
<line x1="221.1" y1="412.7" x2="221.1" y2="415.9" stroke="#111" stroke-width="1.4"/>
<line x1="230.5" y1="412.7" x2="230.5" y2="415.9" stroke="#111" stroke-width="1.4"/>
<g class="lt">
<line x1="429.2" y1="389.8" x2="429.2" y2="516" stroke="#3a3a3a" stroke-width="1.4"/>
<line x1="428.5" y1="515.3" x2="612.9" y2="515.3" stroke="#3a3a3a" stroke-width="1.4"/>
<line x1="429.2" y1="515.3" x2="429.2" y2="520.1" stroke="#3a3a3a" stroke-width="1.4"/>
<text x="429.2" y="531.2" font-size="9.3" text-anchor="middle" font-weight="bold" fill="#111">-2</text>
<line x1="459.82" y1="515.3" x2="459.82" y2="520.1" stroke="#3a3a3a" stroke-width="1.4"/>
<text x="459.82" y="531.2" font-size="9.3" text-anchor="middle" font-weight="bold" fill="#111">0</text>
<line x1="490.43" y1="515.3" x2="490.43" y2="520.1" stroke="#3a3a3a" stroke-width="1.4"/>
<text x="490.43" y="531.2" font-size="9.3" text-anchor="middle" font-weight="bold" fill="#111">2</text>
<line x1="521.05" y1="515.3" x2="521.05" y2="520.1" stroke="#3a3a3a" stroke-width="1.4"/>
<text x="521.05" y="531.2" font-size="9.3" text-anchor="middle" font-weight="bold" fill="#111">4</text>
<line x1="551.67" y1="515.3" x2="551.67" y2="520.1" stroke="#3a3a3a" stroke-width="1.4"/>
<text x="551.67" y="531.2" font-size="9.3" text-anchor="middle" font-weight="bold" fill="#111">6</text>
<line x1="582.28" y1="515.3" x2="582.28" y2="520.1" stroke="#3a3a3a" stroke-width="1.4"/>
<text x="582.28" y="531.2" font-size="9.3" text-anchor="middle" font-weight="bold" fill="#111">8</text>
<line x1="612.9" y1="515.3" x2="612.9" y2="520.1" stroke="#3a3a3a" stroke-width="1.4"/>
<text x="612.9" y="531.2" font-size="9.3" text-anchor="middle" font-weight="bold" fill="#111">10</text>
<line x1="459.82" y1="390.3" x2="459.82" y2="512.8" stroke="#d02c44" stroke-width="1.5" stroke-dasharray="3.3 2.7"/>
<line x1="425" y1="405.3" x2="429.2" y2="405.3" stroke="#3a3a3a" stroke-width="1.4"/>
<text x="421" y="408.7" font-size="9.5" text-anchor="end" font-weight="bold" fill="#111">UHRF2 (Low vs. High)</text>
<line x1="475.81" y1="405.3" x2="501.46" y2="405.3" stroke="#111" stroke-width="1.7"/>
<line x1="475.81" y1="402.9" x2="475.81" y2="407.7" stroke="#111" stroke-width="1.7"/>
<line x1="501.46" y1="402.9" x2="501.46" y2="407.7" stroke="#111" stroke-width="1.7"/>
<polygon points="486.2,405.3 488.6,402.9 491,405.3 488.6,407.7" fill="#111"/>
<line x1="425" y1="428.8" x2="429.2" y2="428.8" stroke="#3a3a3a" stroke-width="1.4"/>
<text x="421" y="432.2" font-size="9.5" text-anchor="end" font-weight="bold" fill="#111">TNM (I-II vs. III-IV)</text>
<line x1="452.77" y1="428.8" x2="564.68" y2="428.8" stroke="#111" stroke-width="1.7"/>
<line x1="452.77" y1="426.4" x2="452.77" y2="431.2" stroke="#111" stroke-width="1.7"/>
<line x1="564.68" y1="426.4" x2="564.68" y2="431.2" stroke="#111" stroke-width="1.7"/>
<polygon points="505.5,426.6 511.5,426.6 508.5,431.8" fill="#111"/>
<line x1="425" y1="452.3" x2="429.2" y2="452.3" stroke="#3a3a3a" stroke-width="1.4"/>
<text x="421" y="455.7" font-size="9.5" text-anchor="end" font-weight="bold" fill="#111">M (M0 vs. M1-3)</text>
<line x1="457.21" y1="452.3" x2="586.26" y2="452.3" stroke="#111" stroke-width="1.7"/>
<line x1="457.21" y1="449.9" x2="457.21" y2="454.7" stroke="#111" stroke-width="1.7"/>
<line x1="586.26" y1="449.9" x2="586.26" y2="454.7" stroke="#111" stroke-width="1.7"/>
<polygon points="519.27,454.5 525.27,454.5 522.27,449.3" fill="#111"/>
<line x1="425" y1="475.8" x2="429.2" y2="475.8" stroke="#3a3a3a" stroke-width="1.4"/>
<text x="342.3" y="479.2" font-size="9.5" text-anchor="start" font-weight="bold" fill="#111">T</text>
<text x="350.6" y="479.2" font-size="9.5" text-anchor="start" font-weight="normal" fill="#111">(</text>
<text x="356.8" y="479.2" font-size="9.5" text-anchor="start" font-weight="bold" fill="#111" textLength="53" lengthAdjust="spacingAndGlyphs">T1-2 vs. T3-4</text>
<text x="410.8" y="479.2" font-size="9.5" text-anchor="start" font-weight="normal" fill="#111">)</text>
<line x1="450.63" y1="475.8" x2="554.88" y2="475.8" stroke="#111" stroke-width="1.7"/>
<line x1="450.63" y1="473.4" x2="450.63" y2="478.2" stroke="#111" stroke-width="1.7"/>
<line x1="554.88" y1="473.4" x2="554.88" y2="478.2" stroke="#111" stroke-width="1.7"/>
<rect x="499.67" y="473.1" width="5.4" height="5.4" fill="#111"/>
<line x1="425" y1="499.5" x2="429.2" y2="499.5" stroke="#3a3a3a" stroke-width="1.4"/>
<text x="421" y="502.9" font-size="9.5" text-anchor="end" font-weight="bold" fill="#111">Gender (Female vs. Male)</text>
<line x1="469.46" y1="499.5" x2="486.45" y2="499.5" stroke="#111" stroke-width="1.7"/>
<line x1="469.46" y1="497.1" x2="469.46" y2="501.9" stroke="#111" stroke-width="1.7"/>
<line x1="486.45" y1="497.1" x2="486.45" y2="501.9" stroke="#111" stroke-width="1.7"/>
<circle cx="478.03" cy="499.5" r="2.9" fill="#111"/>
</g>
</svg>
</body></html>
